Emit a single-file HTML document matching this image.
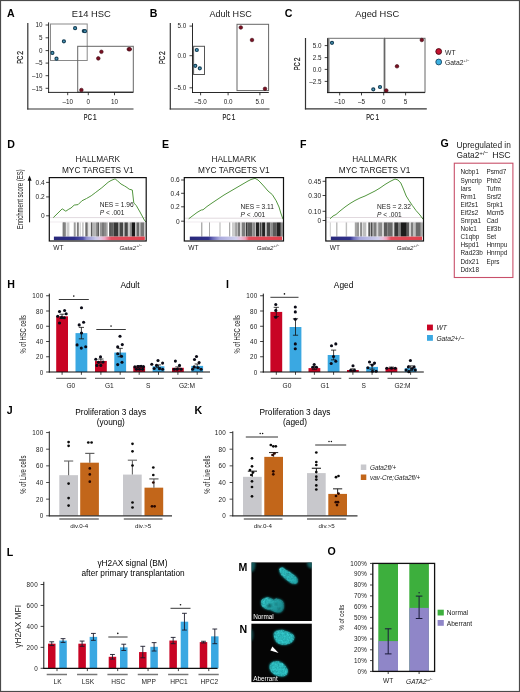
<!DOCTYPE html>
<html><head><meta charset="utf-8"><style>
html,body{margin:0;padding:0;background:#fff;}
svg{display:block;font-family:"Liberation Sans", sans-serif;-webkit-font-smoothing:antialiased;will-change:transform;}
</style></head><body>
<svg width="520" height="692" viewBox="0 0 520 692">
<rect width="520" height="692" fill="#fff"/>
<rect x="0.5" y="0.5" width="519" height="691" fill="none" stroke="#4a4a4a" stroke-width="1.2" />
<text x="6.9" y="16.8" font-size="10.6" font-weight="bold" fill="#000" >A</text>
<line x1="27.8" y1="23" x2="27.8" y2="109.6" stroke="#333" stroke-width="1.2" />
<line x1="27.2" y1="109" x2="133.5" y2="109" stroke="#333" stroke-width="1.2" />
<text x="91.3" y="17" font-size="9.4" text-anchor="middle" fill="#1a1a1a" >E14 HSC</text>
<rect x="50.5" y="24" width="36.7" height="36.5" fill="none" stroke="#8a8a8a" stroke-width="1" />
<rect x="77.7" y="46.3" width="55.60000000000001" height="45.7" fill="none" stroke="#666" stroke-width="1" />
<line x1="48.6" y1="22.4" x2="48.6" y2="92.9" stroke="#111" stroke-width="0.9" />
<line x1="48.1" y1="92.4" x2="133.3" y2="92.4" stroke="#111" stroke-width="0.9" />
<line x1="45.6" y1="25.0" x2="48.6" y2="25.0" stroke="#111" stroke-width="0.8" />
<text x="42.4" y="27.2" font-size="6.3" text-anchor="end" fill="#222" >10</text>
<line x1="45.6" y1="37.8" x2="48.6" y2="37.8" stroke="#111" stroke-width="0.8" />
<text x="42.4" y="40.0" font-size="6.3" text-anchor="end" fill="#222" >5</text>
<line x1="45.6" y1="50.6" x2="48.6" y2="50.6" stroke="#111" stroke-width="0.8" />
<text x="42.4" y="52.800000000000004" font-size="6.3" text-anchor="end" fill="#222" >0</text>
<line x1="45.6" y1="63.1" x2="48.6" y2="63.1" stroke="#111" stroke-width="0.8" />
<text x="42.4" y="65.3" font-size="6.3" text-anchor="end" fill="#222" >–5</text>
<line x1="45.6" y1="75.7" x2="48.6" y2="75.7" stroke="#111" stroke-width="0.8" />
<text x="42.4" y="77.9" font-size="6.3" text-anchor="end" fill="#222" >–10</text>
<line x1="45.6" y1="88.3" x2="48.6" y2="88.3" stroke="#111" stroke-width="0.8" />
<text x="42.4" y="90.5" font-size="6.3" text-anchor="end" fill="#222" >–15</text>
<line x1="67.7" y1="92.4" x2="67.7" y2="95.2" stroke="#111" stroke-width="0.8" />
<text x="67.7" y="104.10000000000001" font-size="6.3" text-anchor="middle" fill="#222" >–10</text>
<line x1="88.3" y1="92.4" x2="88.3" y2="95.2" stroke="#111" stroke-width="0.8" />
<text x="88.3" y="104.10000000000001" font-size="6.3" text-anchor="middle" fill="#222" >0</text>
<line x1="114.5" y1="92.4" x2="114.5" y2="95.2" stroke="#111" stroke-width="0.8" />
<text x="114.5" y="104.10000000000001" font-size="6.3" text-anchor="middle" fill="#222" >10</text>
<circle cx="75.1" cy="28.2" r="1.5" fill="#4fa2c4" stroke="#173f55" stroke-width="1.2"/>
<circle cx="83.8" cy="31.0" r="1.5" fill="#4fa2c4" stroke="#173f55" stroke-width="1.2"/>
<circle cx="85.0" cy="31.2" r="1.5" fill="#4fa2c4" stroke="#173f55" stroke-width="1.2"/>
<circle cx="63.9" cy="41.3" r="1.5" fill="#4fa2c4" stroke="#173f55" stroke-width="1.2"/>
<circle cx="52.4" cy="52.9" r="1.5" fill="#4fa2c4" stroke="#173f55" stroke-width="1.2"/>
<circle cx="56.5" cy="58.7" r="1.5" fill="#4fa2c4" stroke="#173f55" stroke-width="1.2"/>
<circle cx="101.4" cy="51.8" r="1.8" fill="#7a1022" stroke="#3e0812" stroke-width="0.6"/>
<circle cx="98.3" cy="58.4" r="1.8" fill="#7a1022" stroke="#3e0812" stroke-width="0.6"/>
<circle cx="128.8" cy="49.2" r="1.8" fill="#7a1022" stroke="#3e0812" stroke-width="0.6"/>
<circle cx="129.8" cy="49.2" r="1.8" fill="#7a1022" stroke="#3e0812" stroke-width="0.6"/>
<circle cx="81.4" cy="90" r="1.8" fill="#7a1022" stroke="#3e0812" stroke-width="0.6"/>
<text x="83.85" y="119.6" font-size="8.4" fill="#1a1a1a" textLength="7.9" lengthAdjust="spacingAndGlyphs" stroke="#1a1a1a" stroke-width="0.2">PC</text>
<text x="93.05" y="119.6" font-size="8.4" fill="#1a1a1a" textLength="3.6" lengthAdjust="spacingAndGlyphs" stroke="#1a1a1a" stroke-width="0.2">1</text>
<g transform="translate(22.7 63.75) rotate(-90)">
<text x="0" y="0" font-size="8.4" fill="#1a1a1a" textLength="7.9" lengthAdjust="spacingAndGlyphs" stroke="#1a1a1a" stroke-width="0.2">PC</text>
<text x="9.0" y="0" font-size="8.4" fill="#1a1a1a" textLength="3.8" lengthAdjust="spacingAndGlyphs" stroke="#1a1a1a" stroke-width="0.2">2</text>
</g>
<text x="149.8" y="16.8" font-size="10.6" font-weight="bold" fill="#000" >B</text>
<line x1="170.3" y1="23" x2="170.3" y2="109.6" stroke="#333" stroke-width="1.2" />
<line x1="169.70000000000002" y1="109" x2="269.5" y2="109" stroke="#333" stroke-width="1.2" />
<text x="230.6" y="17" font-size="9.05" text-anchor="middle" fill="#1a1a1a" >Adult HSC</text>
<rect x="193.6" y="46.3" width="10.900000000000006" height="28.200000000000003" fill="none" stroke="#555" stroke-width="1" />
<rect x="237.0" y="24.3" width="31.600000000000023" height="66.3" fill="none" stroke="#666" stroke-width="1" />
<line x1="192.5" y1="23.2" x2="192.5" y2="93.0" stroke="#111" stroke-width="0.9" />
<line x1="192.0" y1="92.5" x2="268.8" y2="92.5" stroke="#111" stroke-width="0.9" />
<line x1="189.5" y1="26.1" x2="192.5" y2="26.1" stroke="#111" stroke-width="0.8" />
<text x="186.3" y="28.3" font-size="6.3" text-anchor="end" fill="#222" >5.0</text>
<line x1="189.5" y1="55.7" x2="192.5" y2="55.7" stroke="#111" stroke-width="0.8" />
<text x="186.3" y="57.900000000000006" font-size="6.3" text-anchor="end" fill="#222" >0.0</text>
<line x1="189.5" y1="87.8" x2="192.5" y2="87.8" stroke="#111" stroke-width="0.8" />
<text x="186.3" y="90.0" font-size="6.3" text-anchor="end" fill="#222" >–5.0</text>
<line x1="200.6" y1="92.5" x2="200.6" y2="95.3" stroke="#111" stroke-width="0.8" />
<text x="200.6" y="104.2" font-size="6.3" text-anchor="middle" fill="#222" >–5.0</text>
<line x1="228.1" y1="92.5" x2="228.1" y2="95.3" stroke="#111" stroke-width="0.8" />
<text x="228.1" y="104.2" font-size="6.3" text-anchor="middle" fill="#222" >0.0</text>
<line x1="259.9" y1="92.5" x2="259.9" y2="95.3" stroke="#111" stroke-width="0.8" />
<text x="259.9" y="104.2" font-size="6.3" text-anchor="middle" fill="#222" >5.0</text>
<circle cx="196.8" cy="50" r="1.5" fill="#4fa2c4" stroke="#173f55" stroke-width="1.2"/>
<circle cx="195.3" cy="65.8" r="1.5" fill="#4fa2c4" stroke="#173f55" stroke-width="1.2"/>
<circle cx="199.8" cy="68.3" r="1.5" fill="#4fa2c4" stroke="#173f55" stroke-width="1.2"/>
<circle cx="240.8" cy="27.5" r="1.8" fill="#7a1022" stroke="#3e0812" stroke-width="0.6"/>
<circle cx="252" cy="40" r="1.8" fill="#7a1022" stroke="#3e0812" stroke-width="0.6"/>
<circle cx="265" cy="88.8" r="1.8" fill="#7a1022" stroke="#3e0812" stroke-width="0.6"/>
<text x="222.60000000000002" y="119.6" font-size="8.4" fill="#1a1a1a" textLength="7.9" lengthAdjust="spacingAndGlyphs" stroke="#1a1a1a" stroke-width="0.2">PC</text>
<text x="231.8" y="119.6" font-size="8.4" fill="#1a1a1a" textLength="3.6" lengthAdjust="spacingAndGlyphs" stroke="#1a1a1a" stroke-width="0.2">1</text>
<g transform="translate(164.8 64.0) rotate(-90)">
<text x="0" y="0" font-size="8.4" fill="#1a1a1a" textLength="7.9" lengthAdjust="spacingAndGlyphs" stroke="#1a1a1a" stroke-width="0.2">PC</text>
<text x="9.0" y="0" font-size="8.4" fill="#1a1a1a" textLength="3.8" lengthAdjust="spacingAndGlyphs" stroke="#1a1a1a" stroke-width="0.2">2</text>
</g>
<text x="284.8" y="16.8" font-size="10.6" font-weight="bold" fill="#000" >C</text>
<line x1="305.5" y1="38" x2="305.5" y2="109.39999999999999" stroke="#333" stroke-width="1.2" />
<line x1="304.9" y1="108.8" x2="426.8" y2="108.8" stroke="#333" stroke-width="1.2" />
<text x="377.3" y="17" font-size="9.3" text-anchor="middle" fill="#1a1a1a" >Aged HSC</text>
<rect x="328" y="38.3" width="56.5" height="54.10000000000001" fill="none" stroke="#707070" stroke-width="1" />
<line x1="328.6" y1="38.3" x2="328.6" y2="92.4" stroke="#8c8c8c" stroke-width="2.0" />
<line x1="384.5" y1="38.3" x2="384.5" y2="92.4" stroke="#8c8c8c" stroke-width="2.0" />
<rect x="384.5" y="38.3" width="40.5" height="53.900000000000006" fill="none" stroke="#666" stroke-width="1" />
<line x1="327.7" y1="38.2" x2="327.7" y2="93.1" stroke="#111" stroke-width="0.9" />
<line x1="327.2" y1="92.6" x2="425" y2="92.6" stroke="#111" stroke-width="0.9" />
<line x1="324.7" y1="45.6" x2="327.7" y2="45.6" stroke="#111" stroke-width="0.8" />
<text x="321.5" y="47.800000000000004" font-size="6.3" text-anchor="end" fill="#222" >5.0</text>
<line x1="324.7" y1="57.6" x2="327.7" y2="57.6" stroke="#111" stroke-width="0.8" />
<text x="321.5" y="59.800000000000004" font-size="6.3" text-anchor="end" fill="#222" >2.5</text>
<line x1="324.7" y1="69.4" x2="327.7" y2="69.4" stroke="#111" stroke-width="0.8" />
<text x="321.5" y="71.60000000000001" font-size="6.3" text-anchor="end" fill="#222" >0.0</text>
<line x1="324.7" y1="81.4" x2="327.7" y2="81.4" stroke="#111" stroke-width="0.8" />
<text x="321.5" y="83.60000000000001" font-size="6.3" text-anchor="end" fill="#222" >–2.5</text>
<line x1="339.7" y1="92.6" x2="339.7" y2="95.39999999999999" stroke="#111" stroke-width="0.8" />
<text x="339.7" y="104.3" font-size="6.3" text-anchor="middle" fill="#222" >–10</text>
<line x1="361.5" y1="92.6" x2="361.5" y2="95.39999999999999" stroke="#111" stroke-width="0.8" />
<text x="361.5" y="104.3" font-size="6.3" text-anchor="middle" fill="#222" >–5</text>
<line x1="383.7" y1="92.6" x2="383.7" y2="95.39999999999999" stroke="#111" stroke-width="0.8" />
<text x="383.7" y="104.3" font-size="6.3" text-anchor="middle" fill="#222" >0</text>
<line x1="405.6" y1="92.6" x2="405.6" y2="95.39999999999999" stroke="#111" stroke-width="0.8" />
<text x="405.6" y="104.3" font-size="6.3" text-anchor="middle" fill="#222" >5</text>
<circle cx="332" cy="42.8" r="1.5" fill="#4fa2c4" stroke="#173f55" stroke-width="1.2"/>
<circle cx="373.3" cy="89.3" r="1.5" fill="#4fa2c4" stroke="#173f55" stroke-width="1.2"/>
<circle cx="380" cy="87" r="1.5" fill="#4fa2c4" stroke="#173f55" stroke-width="1.2"/>
<circle cx="397" cy="66.3" r="1.8" fill="#7a1022" stroke="#3e0812" stroke-width="0.6"/>
<circle cx="386.3" cy="90.5" r="1.8" fill="#7a1022" stroke="#3e0812" stroke-width="0.6"/>
<circle cx="421.8" cy="40" r="1.8" fill="#7a1022" stroke="#3e0812" stroke-width="0.6"/>
<text x="366.2" y="119.6" font-size="8.4" fill="#1a1a1a" textLength="7.9" lengthAdjust="spacingAndGlyphs" stroke="#1a1a1a" stroke-width="0.2">PC</text>
<text x="375.4" y="119.6" font-size="8.4" fill="#1a1a1a" textLength="3.6" lengthAdjust="spacingAndGlyphs" stroke="#1a1a1a" stroke-width="0.2">1</text>
<g transform="translate(299.9 70.35) rotate(-90)">
<text x="0" y="0" font-size="8.4" fill="#1a1a1a" textLength="7.9" lengthAdjust="spacingAndGlyphs" stroke="#1a1a1a" stroke-width="0.2">PC</text>
<text x="9.0" y="0" font-size="8.4" fill="#1a1a1a" textLength="3.8" lengthAdjust="spacingAndGlyphs" stroke="#1a1a1a" stroke-width="0.2">2</text>
</g>
<circle cx="438.7" cy="51.5" r="2.9" fill="#c41230" stroke="#4a0812" stroke-width="0.9"/>
<circle cx="438.7" cy="62.0" r="2.9" fill="#3cb0e0" stroke="#1c4a66" stroke-width="0.9"/>
<text x="445" y="54.5" font-size="6.8" fill="#222" >WT</text>
<text x="445" y="64.5" font-size="6.8" fill="#222" >Gata2<tspan font-size="4.2" dy="-2.6">+/−</tspan></text>
<text x="7.2" y="147.5" font-size="10.6" font-weight="bold" fill="#000" >D</text>
<text x="22.9" y="199.3" font-size="8.2" text-anchor="middle" fill="#1a1a1a" textLength="60" lengthAdjust="spacingAndGlyphs" transform="rotate(-90 22.9 199.3)" >Enrichment score (ES)</text>
<line x1="29.6" y1="222.3" x2="29.6" y2="179.5" stroke="#111" stroke-width="1.0" />
<path d="M29.6,175.6 L31.6,180.8 L27.6,180.8 Z" stroke="none" stroke-width="1" fill="#111" />
<text x="97.75" y="162" font-size="8.3" text-anchor="middle" fill="#1a1a1a" >HALLMARK</text>
<text x="97.75" y="172.6" font-size="8.3" text-anchor="middle" fill="#1a1a1a" >MYC TARGETS V1</text>
<line x1="49.3" y1="217.6" x2="146.2" y2="217.6" stroke="#d9cfd6" stroke-width="0.8" />
<line x1="49.3" y1="222.0" x2="146.2" y2="222.0" stroke="#e6dde4" stroke-width="0.6" />
<rect x="62.5" y="222.4" width="3.5" height="14.2" fill="rgb(150,150,150)" />
<rect x="63.2" y="222.4" width="1.3999999999999915" height="14.2" fill="rgb(120,120,120)" />
<rect x="66.5" y="222.4" width="2.9000000000000057" height="14.2" fill="rgb(205,205,205)" />
<rect x="73.75" y="222.4" width="1.9500000000000028" height="14.2" fill="rgb(155,155,155)" />
<rect x="76.9" y="222.4" width="1.8999999999999915" height="14.2" fill="rgb(125,125,125)" />
<rect x="79.5" y="222.4" width="1.5" height="14.2" fill="rgb(215,215,215)" />
<rect x="82" y="222.4" width="1.7999999999999972" height="14.2" fill="rgb(200,200,200)" />
<rect x="85.3" y="222.4" width="2.4000000000000057" height="14.2" fill="rgb(110,110,110)" />
<rect x="88.2" y="222.4" width="1.3999999999999915" height="14.2" fill="rgb(215,215,215)" />
<rect x="90.8" y="222.4" width="1.7000000000000028" height="14.2" fill="rgb(90,90,90)" />
<rect x="93" y="222.4" width="2" height="14.2" fill="rgb(180,180,180)" />
<rect x="95.4" y="222.4" width="1.8999999999999915" height="14.2" fill="rgb(140,140,140)" />
<rect x="97.3" y="222.4" width="1.9000000000000057" height="14.2" fill="rgb(90,90,90)" />
<rect x="100" y="222.4" width="2" height="14.2" fill="rgb(150,150,150)" />
<rect x="102" y="222.4" width="2" height="14.2" fill="rgb(120,120,120)" />
<rect x="104" y="222.4" width="2" height="14.2" fill="rgb(140,140,140)" />
<rect x="106" y="222.4" width="1.7000000000000028" height="14.2" fill="rgb(165,165,165)" />
<rect x="109.1" y="222.4" width="1.9000000000000057" height="14.2" fill="rgb(85,85,85)" />
<rect x="111" y="222.4" width="2.5" height="14.2" fill="rgb(95,95,95)" />
<rect x="113.5" y="222.4" width="4.799999999999997" height="14.2" fill="rgb(55,55,55)" />
<rect x="118.3" y="222.4" width="1.4000000000000057" height="14.2" fill="rgb(140,140,140)" />
<rect x="119.7" y="222.4" width="3.299999999999997" height="14.2" fill="rgb(70,70,70)" />
<rect x="123" y="222.4" width="1.5" height="14.2" fill="rgb(190,190,190)" />
<rect x="124.5" y="222.4" width="3.4000000000000057" height="14.2" fill="rgb(70,70,70)" />
<rect x="127.9" y="222.4" width="1.9000000000000057" height="14.2" fill="rgb(200,200,200)" />
<rect x="129.8" y="222.4" width="1.8999999999999773" height="14.2" fill="rgb(140,140,140)" />
<rect x="131.7" y="222.4" width="3.4000000000000057" height="14.2" fill="rgb(25,25,25)" />
<rect x="135.1" y="222.4" width="1.4000000000000057" height="14.2" fill="rgb(190,190,190)" />
<rect x="136.5" y="222.4" width="2.9000000000000057" height="14.2" fill="rgb(105,105,105)" />
<rect x="139.4" y="222.4" width="1.0" height="14.2" fill="rgb(185,185,185)" />
<rect x="140.4" y="222.4" width="3.799999999999983" height="14.2" fill="rgb(120,120,120)" />
<rect x="144.2" y="222.4" width="1.200000000000017" height="14.2" fill="rgb(200,200,200)" />
<defs><linearGradient id="gD" x1="0" x2="1" y1="0" y2="0"><stop offset="0" stop-color="#28287a"/><stop offset="0.22" stop-color="#2e2e88"/><stop offset="0.32" stop-color="#5050a8"/><stop offset="0.36" stop-color="#9090d0"/><stop offset="0.46" stop-color="#c8c8ea"/><stop offset="0.51" stop-color="#e0c8e4"/><stop offset="0.56" stop-color="#f0a8c4"/><stop offset="0.63" stop-color="#e05060"/><stop offset="1" stop-color="#e0404c"/></linearGradient></defs>
<rect x="53.9" y="236.6" width="90.89999999999998" height="3.5999999999999943" fill="url(#gD)" />
<path d="M53.3,217.6 L58.0,213.0 L62.2,208.8 L65.8,211.2 L68.8,209.2 L71.0,208.0 L74.2,205.1 L78.1,204.6 L81.9,200.8 L86.5,198.5 L91.2,195.8 L95.8,192.3 L101.9,187.7 L108.1,182.3 L111.0,180.5 L114.2,179.2 L115.2,179.0 L117.7,181.0 L121.0,184.0 L124.6,186.0 L127.0,187.5 L129.2,189.2 L132.3,190.0 L133.8,203.0 L136.2,205.4 L140.0,212.0 L144.3,220.0 L146.0,222.0" stroke="#52963e" stroke-width="1.0" fill="none" />
<rect x="49.3" y="177.6" width="96.89999999999999" height="63.400000000000006" fill="none" stroke="#111" stroke-width="1.2" />
<line x1="46.099999999999994" y1="182.4" x2="49.3" y2="182.4" stroke="#111" stroke-width="0.8" />
<text x="44.699999999999996" y="184.70000000000002" font-size="6.6" text-anchor="end" fill="#222" >0.4</text>
<line x1="46.099999999999994" y1="196.9" x2="49.3" y2="196.9" stroke="#111" stroke-width="0.8" />
<text x="44.699999999999996" y="199.20000000000002" font-size="6.6" text-anchor="end" fill="#222" >0.2</text>
<line x1="46.099999999999994" y1="215.8" x2="49.3" y2="215.8" stroke="#111" stroke-width="0.8" />
<text x="44.699999999999996" y="218.10000000000002" font-size="6.6" text-anchor="end" fill="#222" >0</text>
<text x="99.7" y="207.0" font-size="6.6" fill="#222" >NES = 1.96</text>
<text x="99.7" y="215.2" font-size="6.6" fill="#222" ><tspan font-style="italic">P</tspan> &lt; .001</text>
<text x="53.3" y="249.6" font-size="6.6" fill="#222" >WT</text>
<text x="142.2" y="249.8" font-size="6.15" text-anchor="end" font-style="italic" fill="#222" >Gata2<tspan font-size="4.2" dy="-2.8">+/−</tspan></text>
<text x="162.0" y="147.5" font-size="10.6" font-weight="bold" fill="#000" >E</text>
<text x="233.9" y="162" font-size="8.3" text-anchor="middle" fill="#1a1a1a" >HALLMARK</text>
<text x="233.9" y="172.6" font-size="8.3" text-anchor="middle" fill="#1a1a1a" >MYC TARGETS V1</text>
<line x1="184.3" y1="218.2" x2="283.5" y2="218.2" stroke="#d9cfd6" stroke-width="0.8" />
<line x1="184.3" y1="222.0" x2="283.5" y2="222.0" stroke="#e6dde4" stroke-width="0.6" />
<rect x="201.3" y="222.4" width="1.0" height="14.2" fill="rgb(140,140,140)" />
<rect x="209" y="222.4" width="0.8000000000000114" height="14.2" fill="rgb(150,150,150)" />
<rect x="219.6" y="222.4" width="0.8000000000000114" height="14.2" fill="rgb(160,160,160)" />
<rect x="229.2" y="222.4" width="1.0" height="14.2" fill="rgb(150,150,150)" />
<rect x="232" y="222.4" width="3.0999999999999943" height="14.2" fill="rgb(205,205,205)" />
<rect x="235.1" y="222.4" width="2.5999999999999943" height="14.2" fill="rgb(160,160,160)" />
<rect x="238.2" y="222.4" width="1.6000000000000227" height="14.2" fill="rgb(90,90,90)" />
<rect x="240.3" y="222.4" width="1.5999999999999943" height="14.2" fill="rgb(205,205,205)" />
<rect x="241.9" y="222.4" width="3.5999999999999943" height="14.2" fill="rgb(125,125,125)" />
<rect x="246" y="222.4" width="1.5999999999999943" height="14.2" fill="rgb(55,55,55)" />
<rect x="247.6" y="222.4" width="4.599999999999994" height="14.2" fill="rgb(90,90,90)" />
<rect x="252.2" y="222.4" width="3.200000000000017" height="14.2" fill="rgb(140,140,140)" />
<rect x="255.9" y="222.4" width="3.0999999999999943" height="14.2" fill="rgb(35,35,35)" />
<rect x="259.5" y="222.4" width="2.1000000000000227" height="14.2" fill="rgb(70,70,70)" />
<rect x="262.1" y="222.4" width="3.099999999999966" height="14.2" fill="rgb(35,35,35)" />
<rect x="265.2" y="222.4" width="1.6000000000000227" height="14.2" fill="rgb(185,185,185)" />
<rect x="266.8" y="222.4" width="3.599999999999966" height="14.2" fill="rgb(70,70,70)" />
<rect x="270.4" y="222.4" width="2.6000000000000227" height="14.2" fill="rgb(140,140,140)" />
<rect x="273" y="222.4" width="3.6999999999999886" height="14.2" fill="rgb(90,90,90)" />
<rect x="276.7" y="222.4" width="4.100000000000023" height="14.2" fill="rgb(35,35,35)" />
<rect x="280.8" y="222.4" width="2.099999999999966" height="14.2" fill="rgb(140,140,140)" />
<defs><linearGradient id="gE" x1="0" x2="1" y1="0" y2="0"><stop offset="0" stop-color="#28287a"/><stop offset="0.2" stop-color="#30308a"/><stop offset="0.25" stop-color="#6a6ab8"/><stop offset="0.32" stop-color="#a8a8dc"/><stop offset="0.5" stop-color="#d0d0ee"/><stop offset="0.55" stop-color="#e8c0dc"/><stop offset="0.6" stop-color="#f0a0b8"/><stop offset="0.64" stop-color="#e04c5a"/><stop offset="1" stop-color="#e0404c"/></linearGradient></defs>
<rect x="189.8" y="236.6" width="92.30000000000001" height="3.5999999999999943" fill="url(#gE)" />
<path d="M188.7,218.8 L193.0,215.5 L197.0,212.5 L201.2,210.0 L203.0,209.8 L207.0,206.5 L212.0,203.0 L218.0,199.0 L224.0,195.0 L230.0,191.5 L236.0,188.0 L242.0,184.5 L248.0,181.0 L251.0,179.5 L255.0,178.3 L258.0,180.0 L261.0,183.0 L264.6,187.0 L268.0,191.0 L272.3,194.6 L276.2,200.8 L279.0,207.0 L280.8,213.0 L283.0,219.2" stroke="#52963e" stroke-width="1.0" fill="none" />
<rect x="184.3" y="177.6" width="99.19999999999999" height="63.400000000000006" fill="none" stroke="#111" stroke-width="1.2" />
<line x1="181.10000000000002" y1="180.0" x2="184.3" y2="180.0" stroke="#111" stroke-width="0.8" />
<text x="179.70000000000002" y="182.3" font-size="6.6" text-anchor="end" fill="#222" >0.6</text>
<line x1="181.10000000000002" y1="193.3" x2="184.3" y2="193.3" stroke="#111" stroke-width="0.8" />
<text x="179.70000000000002" y="195.60000000000002" font-size="6.6" text-anchor="end" fill="#222" >0.4</text>
<line x1="181.10000000000002" y1="206.8" x2="184.3" y2="206.8" stroke="#111" stroke-width="0.8" />
<text x="179.70000000000002" y="209.10000000000002" font-size="6.6" text-anchor="end" fill="#222" >0.2</text>
<line x1="181.10000000000002" y1="221.2" x2="184.3" y2="221.2" stroke="#111" stroke-width="0.8" />
<text x="179.70000000000002" y="223.5" font-size="6.6" text-anchor="end" fill="#222" >0</text>
<text x="240.5" y="208.6" font-size="6.6" fill="#222" >NES = 3.11</text>
<text x="240.5" y="216.79999999999998" font-size="6.6" fill="#222" ><tspan font-style="italic">P</tspan> &lt; .001</text>
<text x="188.3" y="249.6" font-size="6.6" fill="#222" >WT</text>
<text x="279.5" y="249.8" font-size="6.15" text-anchor="end" font-style="italic" fill="#222" >Gata2<tspan font-size="4.2" dy="-2.8">+/−</tspan></text>
<text x="300.0" y="147.5" font-size="10.6" font-weight="bold" fill="#000" >F</text>
<text x="374.65" y="162" font-size="8.3" text-anchor="middle" fill="#1a1a1a" >HALLMARK</text>
<text x="374.65" y="172.6" font-size="8.3" text-anchor="middle" fill="#1a1a1a" >MYC TARGETS V1</text>
<line x1="325.8" y1="217.5" x2="423.5" y2="217.5" stroke="#d9cfd6" stroke-width="0.8" />
<line x1="325.8" y1="222.0" x2="423.5" y2="222.0" stroke="#e6dde4" stroke-width="0.6" />
<rect x="329.8" y="222.4" width="1.0" height="14.2" fill="rgb(205,205,205)" />
<rect x="336" y="222.4" width="1.5" height="14.2" fill="rgb(190,190,190)" />
<rect x="345.7" y="222.4" width="1.400000000000034" height="14.2" fill="rgb(190,190,190)" />
<rect x="354.8" y="222.4" width="2.1999999999999886" height="14.2" fill="rgb(165,165,165)" />
<rect x="357" y="222.4" width="2.1000000000000227" height="14.2" fill="rgb(150,150,150)" />
<rect x="360.1" y="222.4" width="1.8999999999999773" height="14.2" fill="rgb(140,140,140)" />
<rect x="362.5" y="222.4" width="3.8000000000000114" height="14.2" fill="rgb(190,190,190)" />
<rect x="368.3" y="222.4" width="1.8999999999999773" height="14.2" fill="rgb(90,90,90)" />
<rect x="370.7" y="222.4" width="1.900000000000034" height="14.2" fill="rgb(75,75,75)" />
<rect x="373" y="222.4" width="0.6000000000000227" height="14.2" fill="rgb(150,150,150)" />
<rect x="373.6" y="222.4" width="3.099999999999966" height="14.2" fill="rgb(125,125,125)" />
<rect x="376.7" y="222.4" width="1.5" height="14.2" fill="rgb(215,215,215)" />
<rect x="378.2" y="222.4" width="4.199999999999989" height="14.2" fill="rgb(140,140,140)" />
<rect x="382.4" y="222.4" width="1.5" height="14.2" fill="rgb(215,215,215)" />
<rect x="383.9" y="222.4" width="3.7000000000000455" height="14.2" fill="rgb(90,90,90)" />
<rect x="387.6" y="222.4" width="5.199999999999989" height="14.2" fill="rgb(105,105,105)" />
<rect x="392.8" y="222.4" width="1.5" height="14.2" fill="rgb(215,215,215)" />
<rect x="394.3" y="222.4" width="3.6999999999999886" height="14.2" fill="rgb(55,55,55)" />
<rect x="398" y="222.4" width="2.6000000000000227" height="14.2" fill="rgb(125,125,125)" />
<rect x="400.6" y="222.4" width="6.199999999999989" height="14.2" fill="rgb(28,28,28)" />
<rect x="406.8" y="222.4" width="2.599999999999966" height="14.2" fill="rgb(90,90,90)" />
<rect x="409.4" y="222.4" width="1.5" height="14.2" fill="rgb(215,215,215)" />
<rect x="410.9" y="222.4" width="2.6000000000000227" height="14.2" fill="rgb(125,125,125)" />
<rect x="413.5" y="222.4" width="2.1000000000000227" height="14.2" fill="rgb(190,190,190)" />
<rect x="415.6" y="222.4" width="5.199999999999989" height="14.2" fill="rgb(105,105,105)" />
<rect x="420.8" y="222.4" width="2.099999999999966" height="14.2" fill="rgb(170,170,170)" />
<defs><linearGradient id="gF" x1="0" x2="1" y1="0" y2="0"><stop offset="0" stop-color="#28287a"/><stop offset="0.21" stop-color="#30308a"/><stop offset="0.25" stop-color="#6a6ab8"/><stop offset="0.32" stop-color="#a8a8dc"/><stop offset="0.52" stop-color="#d0d0ee"/><stop offset="0.57" stop-color="#e8c0dc"/><stop offset="0.61" stop-color="#f0a0b8"/><stop offset="0.66" stop-color="#e04c5a"/><stop offset="1" stop-color="#e0404c"/></linearGradient></defs>
<rect x="330.8" y="236.6" width="91.30000000000001" height="3.5999999999999943" fill="url(#gF)" />
<path d="M330.0,218.8 L333.0,216.0 L336.0,214.5 L340.0,211.0 L345.0,207.0 L350.0,203.5 L355.0,200.5 L360.0,198.0 L365.0,196.0 L370.0,193.5 L375.0,191.0 L380.0,188.0 L385.0,184.5 L390.0,181.5 L395.0,179.0 L398.0,180.0 L400.8,183.0 L403.0,188.0 L406.2,196.0 L409.0,200.5 L412.3,205.4 L416.0,210.5 L420.0,215.0 L423.0,219.2" stroke="#52963e" stroke-width="1.0" fill="none" />
<rect x="325.8" y="177.6" width="97.69999999999999" height="63.400000000000006" fill="none" stroke="#111" stroke-width="1.2" />
<line x1="322.6" y1="181.3" x2="325.8" y2="181.3" stroke="#111" stroke-width="0.8" />
<text x="321.2" y="183.60000000000002" font-size="6.6" text-anchor="end" fill="#222" >0.45</text>
<line x1="322.6" y1="195.5" x2="325.8" y2="195.5" stroke="#111" stroke-width="0.8" />
<text x="321.2" y="197.8" font-size="6.6" text-anchor="end" fill="#222" >0.30</text>
<line x1="322.6" y1="211.3" x2="325.8" y2="211.3" stroke="#111" stroke-width="0.8" />
<text x="321.2" y="213.60000000000002" font-size="6.6" text-anchor="end" fill="#222" >0.10</text>
<line x1="322.6" y1="220.5" x2="325.8" y2="220.5" stroke="#111" stroke-width="0.8" />
<text x="321.2" y="222.8" font-size="6.6" text-anchor="end" fill="#222" >0</text>
<text x="377.0" y="209.0" font-size="6.6" fill="#222" >NES = 2.32</text>
<text x="377.0" y="217.2" font-size="6.6" fill="#222" ><tspan font-style="italic">P</tspan> &lt; .001</text>
<text x="329.8" y="249.6" font-size="6.6" fill="#222" >WT</text>
<text x="419.5" y="249.8" font-size="6.15" text-anchor="end" font-style="italic" fill="#222" >Gata2<tspan font-size="4.2" dy="-2.8">+/−</tspan></text>
<text x="440.4" y="147.4" font-size="10.6" font-weight="bold" fill="#000" >G</text>
<text x="456.6" y="148.0" font-size="8.35" fill="#222" >Upregulated in</text>
<text x="456.6" y="158.2" font-size="8.35" fill="#222" >Gata2<tspan font-size="6.2" dy="-3.6">+/−</tspan><tspan dy="3.6" dx="1.4" font-size="8.8"> HSC</tspan></text>
<rect x="454.3" y="163.2" width="58.6" height="114.3" fill="none" stroke="#c8506a" stroke-width="1.1" />
<text x="460.5" y="174.4" font-size="6.4" fill="#222" >Ncbp1</text>
<text x="460.5" y="182.5" font-size="6.4" fill="#222" >Syncrip</text>
<text x="460.5" y="190.6" font-size="6.4" fill="#222" >Iars</text>
<text x="460.5" y="198.7" font-size="6.4" fill="#222" >Rrm1</text>
<text x="460.5" y="206.8" font-size="6.4" fill="#222" >Eif2s1</text>
<text x="460.5" y="214.9" font-size="6.4" fill="#222" >Eif2s2</text>
<text x="460.5" y="223.0" font-size="6.4" fill="#222" >Snrpa1</text>
<text x="460.5" y="231.1" font-size="6.4" fill="#222" >Nolc1</text>
<text x="460.5" y="239.2" font-size="6.4" fill="#222" >C1qbp</text>
<text x="460.5" y="247.3" font-size="6.4" fill="#222" >Hspd1</text>
<text x="460.5" y="255.4" font-size="6.4" fill="#222" >Rad23b</text>
<text x="460.5" y="263.5" font-size="6.4" fill="#222" >Ddx21</text>
<text x="460.5" y="271.6" font-size="6.4" fill="#222" >Ddx18</text>
<text x="486.4" y="174.4" font-size="6.4" fill="#222" >Psmd7</text>
<text x="486.4" y="182.5" font-size="6.4" fill="#222" >Phb2</text>
<text x="486.4" y="190.6" font-size="6.4" fill="#222" >Tufm</text>
<text x="486.4" y="198.7" font-size="6.4" fill="#222" >Srsf2</text>
<text x="486.4" y="206.8" font-size="6.4" fill="#222" >Srpk1</text>
<text x="486.4" y="214.9" font-size="6.4" fill="#222" >Mcm5</text>
<text x="486.4" y="223.0" font-size="6.4" fill="#222" >Cad</text>
<text x="486.4" y="231.1" font-size="6.4" fill="#222" >Eif3b</text>
<text x="486.4" y="239.2" font-size="6.4" fill="#222" >Set</text>
<text x="486.4" y="247.3" font-size="6.4" fill="#222" >Hnrnpu</text>
<text x="486.4" y="255.4" font-size="6.4" fill="#222" >Hnrnpd</text>
<text x="486.4" y="263.5" font-size="6.4" fill="#222" >Eprs</text>
<text x="7.2" y="288.2" font-size="10.6" font-weight="bold" fill="#000" >H</text>
<text x="130.0" y="288.2" font-size="8.4" text-anchor="middle" >Adult</text>
<rect x="56.2" y="316.3375" width="11.8" height="55.662499999999994" fill="#c80424" />
<rect x="75.5" y="333.1125" width="11.8" height="38.887499999999996" fill="#3aa8e2" />
<rect x="95.0" y="360.94375" width="11.8" height="11.056249999999999" fill="#c80424" />
<rect x="114.3" y="352.55625" width="11.8" height="19.443749999999998" fill="#3aa8e2" />
<rect x="133.3" y="366.28125" width="11.8" height="5.71875" fill="#c80424" />
<rect x="152.60000000000002" y="366.28125" width="11.8" height="5.71875" fill="#3aa8e2" />
<rect x="172.0" y="367.80625" width="11.8" height="4.19375" fill="#c80424" />
<rect x="191.3" y="365.9" width="11.8" height="6.1" fill="#3aa8e2" />
<line x1="62.1" y1="314.2025" x2="62.1" y2="318.4725" stroke="#111" stroke-width="0.8" />
<line x1="59.5" y1="314.2025" x2="64.7" y2="314.2025" stroke="#111" stroke-width="0.8" />
<line x1="59.5" y1="318.4725" x2="64.7" y2="318.4725" stroke="#111" stroke-width="0.8" />
<line x1="81.4" y1="327.39375" x2="81.4" y2="338.83125" stroke="#111" stroke-width="0.8" />
<line x1="78.80000000000001" y1="327.39375" x2="84.0" y2="327.39375" stroke="#111" stroke-width="0.8" />
<line x1="78.80000000000001" y1="338.83125" x2="84.0" y2="338.83125" stroke="#111" stroke-width="0.8" />
<line x1="100.9" y1="359.0375" x2="100.9" y2="362.85" stroke="#111" stroke-width="0.8" />
<line x1="98.30000000000001" y1="359.0375" x2="103.5" y2="359.0375" stroke="#111" stroke-width="0.8" />
<line x1="98.30000000000001" y1="362.85" x2="103.5" y2="362.85" stroke="#111" stroke-width="0.8" />
<line x1="120.2" y1="348.3625" x2="120.2" y2="356.75" stroke="#111" stroke-width="0.8" />
<line x1="117.60000000000001" y1="348.3625" x2="122.8" y2="348.3625" stroke="#111" stroke-width="0.8" />
<line x1="117.60000000000001" y1="356.75" x2="122.8" y2="356.75" stroke="#111" stroke-width="0.8" />
<line x1="139.20000000000002" y1="365.51875" x2="139.20000000000002" y2="367.04375" stroke="#111" stroke-width="0.8" />
<line x1="136.60000000000002" y1="365.51875" x2="141.8" y2="365.51875" stroke="#111" stroke-width="0.8" />
<line x1="136.60000000000002" y1="367.04375" x2="141.8" y2="367.04375" stroke="#111" stroke-width="0.8" />
<line x1="158.50000000000003" y1="364.90875" x2="158.50000000000003" y2="367.65375" stroke="#111" stroke-width="0.8" />
<line x1="155.90000000000003" y1="364.90875" x2="161.10000000000002" y2="364.90875" stroke="#111" stroke-width="0.8" />
<line x1="155.90000000000003" y1="367.65375" x2="161.10000000000002" y2="367.65375" stroke="#111" stroke-width="0.8" />
<line x1="177.9" y1="366.89125" x2="177.9" y2="368.72125" stroke="#111" stroke-width="0.8" />
<line x1="175.3" y1="366.89125" x2="180.5" y2="366.89125" stroke="#111" stroke-width="0.8" />
<line x1="175.3" y1="368.72125" x2="180.5" y2="368.72125" stroke="#111" stroke-width="0.8" />
<line x1="197.20000000000002" y1="363.99375" x2="197.20000000000002" y2="367.80625" stroke="#111" stroke-width="0.8" />
<line x1="194.60000000000002" y1="363.99375" x2="199.8" y2="363.99375" stroke="#111" stroke-width="0.8" />
<line x1="194.60000000000002" y1="367.80625" x2="199.8" y2="367.80625" stroke="#111" stroke-width="0.8" />
<circle cx="59.5" cy="311.5" r="1.55" fill="#0b0b16"/>
<circle cx="64.6" cy="310.5" r="1.55" fill="#0b0b16"/>
<circle cx="66.2" cy="313.8" r="1.55" fill="#0b0b16"/>
<circle cx="57.7" cy="316.2" r="1.55" fill="#0b0b16"/>
<circle cx="61.5" cy="317.4" r="1.55" fill="#0b0b16"/>
<circle cx="64.3" cy="317.7" r="1.55" fill="#0b0b16"/>
<circle cx="59.5" cy="323" r="1.55" fill="#0b0b16"/>
<circle cx="81.5" cy="307.7" r="1.55" fill="#0b0b16"/>
<circle cx="83.6" cy="322.2" r="1.55" fill="#0b0b16"/>
<circle cx="79.2" cy="324.9" r="1.55" fill="#0b0b16"/>
<circle cx="81.5" cy="333" r="1.55" fill="#0b0b16"/>
<circle cx="77.1" cy="344.9" r="1.55" fill="#0b0b16"/>
<circle cx="81.3" cy="348.1" r="1.55" fill="#0b0b16"/>
<circle cx="85.7" cy="346.7" r="1.55" fill="#0b0b16"/>
<circle cx="95.8" cy="359.2" r="1.55" fill="#0b0b16"/>
<circle cx="100.5" cy="356.9" r="1.55" fill="#0b0b16"/>
<circle cx="98.5" cy="362.3" r="1.55" fill="#0b0b16"/>
<circle cx="103.1" cy="362" r="1.55" fill="#0b0b16"/>
<circle cx="96.9" cy="365.4" r="1.55" fill="#0b0b16"/>
<circle cx="100.8" cy="365.4" r="1.55" fill="#0b0b16"/>
<circle cx="120" cy="336.2" r="1.55" fill="#0b0b16"/>
<circle cx="122.3" cy="344.6" r="1.55" fill="#0b0b16"/>
<circle cx="117.7" cy="346.9" r="1.55" fill="#0b0b16"/>
<circle cx="117.7" cy="353.8" r="1.55" fill="#0b0b16"/>
<circle cx="121.5" cy="356.2" r="1.55" fill="#0b0b16"/>
<circle cx="117.7" cy="364.6" r="1.55" fill="#0b0b16"/>
<circle cx="122" cy="362.3" r="1.55" fill="#0b0b16"/>
<circle cx="134.9" cy="366.9" r="1.55" fill="#0b0b16"/>
<circle cx="138" cy="366.6" r="1.55" fill="#0b0b16"/>
<circle cx="141.1" cy="366.2" r="1.55" fill="#0b0b16"/>
<circle cx="143.4" cy="366.6" r="1.55" fill="#0b0b16"/>
<circle cx="136.5" cy="369.2" r="1.55" fill="#0b0b16"/>
<circle cx="139.5" cy="369.2" r="1.55" fill="#0b0b16"/>
<circle cx="142.6" cy="369.2" r="1.55" fill="#0b0b16"/>
<circle cx="151.8" cy="364.2" r="1.55" fill="#0b0b16"/>
<circle cx="158" cy="360.5" r="1.55" fill="#0b0b16"/>
<circle cx="162.6" cy="363.1" r="1.55" fill="#0b0b16"/>
<circle cx="156.5" cy="365.4" r="1.55" fill="#0b0b16"/>
<circle cx="154.2" cy="368.5" r="1.55" fill="#0b0b16"/>
<circle cx="159.5" cy="368.8" r="1.55" fill="#0b0b16"/>
<circle cx="162.6" cy="369.2" r="1.55" fill="#0b0b16"/>
<circle cx="175.4" cy="361.1" r="1.55" fill="#0b0b16"/>
<circle cx="179.5" cy="365.4" r="1.55" fill="#0b0b16"/>
<circle cx="174.2" cy="369.2" r="1.55" fill="#0b0b16"/>
<circle cx="177.2" cy="369.2" r="1.55" fill="#0b0b16"/>
<circle cx="181.1" cy="369.2" r="1.55" fill="#0b0b16"/>
<circle cx="196.5" cy="356.5" r="1.55" fill="#0b0b16"/>
<circle cx="194.5" cy="359.5" r="1.55" fill="#0b0b16"/>
<circle cx="199.1" cy="362.6" r="1.55" fill="#0b0b16"/>
<circle cx="194.2" cy="366.9" r="1.55" fill="#0b0b16"/>
<circle cx="198" cy="367.7" r="1.55" fill="#0b0b16"/>
<circle cx="192.6" cy="369.2" r="1.55" fill="#0b0b16"/>
<circle cx="201.1" cy="369.2" r="1.55" fill="#0b0b16"/>
<line x1="49.3" y1="293.6" x2="49.3" y2="372.5" stroke="#111" stroke-width="1.0" />
<line x1="48.8" y1="372.0" x2="210.0" y2="372.0" stroke="#111" stroke-width="1.2" />
<line x1="46.099999999999994" y1="372.0" x2="49.3" y2="372.0" stroke="#111" stroke-width="0.8" />
<text x="43.3" y="374.6" font-size="6.3" text-anchor="end" fill="#222" letter-spacing="0.15">0</text>
<line x1="46.099999999999994" y1="356.75" x2="49.3" y2="356.75" stroke="#111" stroke-width="0.8" />
<text x="43.3" y="359.35" font-size="6.3" text-anchor="end" fill="#222" letter-spacing="0.15">20</text>
<line x1="46.099999999999994" y1="341.5" x2="49.3" y2="341.5" stroke="#111" stroke-width="0.8" />
<text x="43.3" y="344.1" font-size="6.3" text-anchor="end" fill="#222" letter-spacing="0.15">40</text>
<line x1="46.099999999999994" y1="326.25" x2="49.3" y2="326.25" stroke="#111" stroke-width="0.8" />
<text x="43.3" y="328.85" font-size="6.3" text-anchor="end" fill="#222" letter-spacing="0.15">60</text>
<line x1="46.099999999999994" y1="311.0" x2="49.3" y2="311.0" stroke="#111" stroke-width="0.8" />
<text x="43.3" y="313.6" font-size="6.3" text-anchor="end" fill="#222" letter-spacing="0.15">80</text>
<line x1="46.099999999999994" y1="295.75" x2="49.3" y2="295.75" stroke="#111" stroke-width="0.8" />
<text x="43.3" y="298.35" font-size="6.3" text-anchor="end" fill="#222" letter-spacing="0.15">100</text>
<line x1="62.1" y1="372.0" x2="62.1" y2="374.8" stroke="#111" stroke-width="0.8" />
<line x1="81.4" y1="372.0" x2="81.4" y2="374.8" stroke="#111" stroke-width="0.8" />
<line x1="100.9" y1="372.0" x2="100.9" y2="374.8" stroke="#111" stroke-width="0.8" />
<line x1="120.2" y1="372.0" x2="120.2" y2="374.8" stroke="#111" stroke-width="0.8" />
<line x1="139.20000000000002" y1="372.0" x2="139.20000000000002" y2="374.8" stroke="#111" stroke-width="0.8" />
<line x1="158.50000000000003" y1="372.0" x2="158.50000000000003" y2="374.8" stroke="#111" stroke-width="0.8" />
<line x1="177.9" y1="372.0" x2="177.9" y2="374.8" stroke="#111" stroke-width="0.8" />
<line x1="197.20000000000002" y1="372.0" x2="197.20000000000002" y2="374.8" stroke="#111" stroke-width="0.8" />
<line x1="58.8" y1="299.5" x2="88.8" y2="299.5" stroke="#222" stroke-width="0.9" />
<circle cx="73.8" cy="296.1" r="0.8" fill="#111"/>
<line x1="96.3" y1="329.5" x2="125.8" y2="329.5" stroke="#222" stroke-width="0.9" />
<circle cx="111.05" cy="326.1" r="0.8" fill="#111"/>
<line x1="56.2" y1="378.3" x2="86.3" y2="378.3" stroke="#333" stroke-width="0.9" />
<line x1="95" y1="378.3" x2="125" y2="378.3" stroke="#333" stroke-width="0.9" />
<line x1="133.3" y1="378.3" x2="163.8" y2="378.3" stroke="#333" stroke-width="0.9" />
<line x1="172" y1="378.3" x2="202.5" y2="378.3" stroke="#333" stroke-width="0.9" />
<text x="70.8" y="387.6" font-size="6.6" text-anchor="middle" fill="#222" >G0</text>
<text x="109.3" y="387.6" font-size="6.6" text-anchor="middle" fill="#222" >G1</text>
<text x="148.3" y="387.6" font-size="6.6" text-anchor="middle" fill="#222" >S</text>
<text x="187" y="387.6" font-size="6.6" text-anchor="middle" fill="#222" >G2:M</text>
<text x="25.799999999999997" y="334.3" font-size="8.6" text-anchor="middle" fill="#1a1a1a" textLength="38.5" lengthAdjust="spacingAndGlyphs" transform="rotate(-90 25.799999999999997 334.3)" >% of HSC cells</text>
<text x="226.0" y="288.2" font-size="10.6" font-weight="bold" fill="#000" >I</text>
<text x="343.6" y="288.2" font-size="8.4" text-anchor="middle" >Aged</text>
<rect x="270.4" y="311.915" width="11.8" height="60.084999999999994" fill="#c80424" />
<rect x="289.59999999999997" y="327.0125" width="11.8" height="44.9875" fill="#3aa8e2" />
<rect x="308.5" y="368.11125" width="11.8" height="3.8887499999999995" fill="#c80424" />
<rect x="327.7" y="354.99625" width="11.8" height="17.00375" fill="#3aa8e2" />
<rect x="347.0" y="370.0175" width="11.8" height="1.9825" fill="#c80424" />
<rect x="366.2" y="366.89125" width="11.8" height="5.10875" fill="#3aa8e2" />
<rect x="385.5" y="367.73" width="11.8" height="4.27" fill="#c80424" />
<rect x="404.7" y="368.1875" width="11.8" height="3.8125" fill="#3aa8e2" />
<line x1="276.29999999999995" y1="307.34000000000003" x2="276.29999999999995" y2="316.49" stroke="#111" stroke-width="0.8" />
<line x1="273.69999999999993" y1="307.34000000000003" x2="278.9" y2="307.34000000000003" stroke="#111" stroke-width="0.8" />
<line x1="273.69999999999993" y1="316.49" x2="278.9" y2="316.49" stroke="#111" stroke-width="0.8" />
<line x1="295.49999999999994" y1="318.77750000000003" x2="295.49999999999994" y2="335.2475" stroke="#111" stroke-width="0.8" />
<line x1="292.8999999999999" y1="318.77750000000003" x2="298.09999999999997" y2="318.77750000000003" stroke="#111" stroke-width="0.8" />
<line x1="292.8999999999999" y1="335.2475" x2="298.09999999999997" y2="335.2475" stroke="#111" stroke-width="0.8" />
<line x1="314.4" y1="366.58625" x2="314.4" y2="369.63625" stroke="#111" stroke-width="0.8" />
<line x1="311.79999999999995" y1="366.58625" x2="317.0" y2="366.58625" stroke="#111" stroke-width="0.8" />
<line x1="311.79999999999995" y1="369.63625" x2="317.0" y2="369.63625" stroke="#111" stroke-width="0.8" />
<line x1="333.59999999999997" y1="350.11625" x2="333.59999999999997" y2="359.87625" stroke="#111" stroke-width="0.8" />
<line x1="330.99999999999994" y1="350.11625" x2="336.2" y2="350.11625" stroke="#111" stroke-width="0.8" />
<line x1="330.99999999999994" y1="359.87625" x2="336.2" y2="359.87625" stroke="#111" stroke-width="0.8" />
<line x1="352.9" y1="368.87375" x2="352.9" y2="371.16125" stroke="#111" stroke-width="0.8" />
<line x1="350.29999999999995" y1="368.87375" x2="355.5" y2="368.87375" stroke="#111" stroke-width="0.8" />
<line x1="350.29999999999995" y1="371.16125" x2="355.5" y2="371.16125" stroke="#111" stroke-width="0.8" />
<line x1="372.09999999999997" y1="364.60375" x2="372.09999999999997" y2="369.17875" stroke="#111" stroke-width="0.8" />
<line x1="369.49999999999994" y1="364.60375" x2="374.7" y2="364.60375" stroke="#111" stroke-width="0.8" />
<line x1="369.49999999999994" y1="369.17875" x2="374.7" y2="369.17875" stroke="#111" stroke-width="0.8" />
<line x1="391.4" y1="367.12" x2="391.4" y2="368.34" stroke="#111" stroke-width="0.8" />
<line x1="388.79999999999995" y1="367.12" x2="394.0" y2="367.12" stroke="#111" stroke-width="0.8" />
<line x1="388.79999999999995" y1="368.34" x2="394.0" y2="368.34" stroke="#111" stroke-width="0.8" />
<line x1="410.59999999999997" y1="365.9" x2="410.59999999999997" y2="370.475" stroke="#111" stroke-width="0.8" />
<line x1="407.99999999999994" y1="365.9" x2="413.2" y2="365.9" stroke="#111" stroke-width="0.8" />
<line x1="407.99999999999994" y1="370.475" x2="413.2" y2="370.475" stroke="#111" stroke-width="0.8" />
<circle cx="275.8" cy="304.5" r="1.55" fill="#0b0b16"/>
<circle cx="275.8" cy="310.4" r="1.55" fill="#0b0b16"/>
<circle cx="275.8" cy="317.3" r="1.55" fill="#0b0b16"/>
<circle cx="295.3" cy="307" r="1.55" fill="#0b0b16"/>
<circle cx="295.3" cy="311.9" r="1.55" fill="#0b0b16"/>
<circle cx="295.3" cy="319.3" r="1.55" fill="#0b0b16"/>
<circle cx="295.3" cy="343.9" r="1.55" fill="#0b0b16"/>
<circle cx="295.3" cy="348.8" r="1.55" fill="#0b0b16"/>
<circle cx="314.2" cy="364.5" r="1.55" fill="#0b0b16"/>
<circle cx="312.7" cy="367.3" r="1.55" fill="#0b0b16"/>
<circle cx="316.5" cy="367.3" r="1.55" fill="#0b0b16"/>
<circle cx="331.5" cy="345.8" r="1.55" fill="#0b0b16"/>
<circle cx="335.8" cy="343.9" r="1.55" fill="#0b0b16"/>
<circle cx="333.5" cy="356.5" r="1.55" fill="#0b0b16"/>
<circle cx="335.8" cy="361.2" r="1.55" fill="#0b0b16"/>
<circle cx="331.2" cy="363.5" r="1.55" fill="#0b0b16"/>
<circle cx="353" cy="365.7" r="1.55" fill="#0b0b16"/>
<circle cx="350.7" cy="370.3" r="1.55" fill="#0b0b16"/>
<circle cx="354.5" cy="370.3" r="1.55" fill="#0b0b16"/>
<circle cx="369.5" cy="362" r="1.55" fill="#0b0b16"/>
<circle cx="374.5" cy="363.1" r="1.55" fill="#0b0b16"/>
<circle cx="372.2" cy="365.1" r="1.55" fill="#0b0b16"/>
<circle cx="367.9" cy="367.7" r="1.55" fill="#0b0b16"/>
<circle cx="372.5" cy="371.2" r="1.55" fill="#0b0b16"/>
<circle cx="376.1" cy="371.2" r="1.55" fill="#0b0b16"/>
<circle cx="386.8" cy="368.2" r="1.55" fill="#0b0b16"/>
<circle cx="391.5" cy="368.2" r="1.55" fill="#0b0b16"/>
<circle cx="395.3" cy="368.2" r="1.55" fill="#0b0b16"/>
<circle cx="410.4" cy="360.5" r="1.55" fill="#0b0b16"/>
<circle cx="408.4" cy="366.9" r="1.55" fill="#0b0b16"/>
<circle cx="414.1" cy="366.9" r="1.55" fill="#0b0b16"/>
<circle cx="412.2" cy="368.5" r="1.55" fill="#0b0b16"/>
<circle cx="406.1" cy="370" r="1.55" fill="#0b0b16"/>
<circle cx="408.8" cy="371.8" r="1.55" fill="#0b0b16"/>
<circle cx="415.3" cy="370" r="1.55" fill="#0b0b16"/>
<line x1="263.3" y1="293.6" x2="263.3" y2="372.5" stroke="#111" stroke-width="1.0" />
<line x1="262.8" y1="372.0" x2="423.8" y2="372.0" stroke="#111" stroke-width="1.2" />
<line x1="260.1" y1="372.0" x2="263.3" y2="372.0" stroke="#111" stroke-width="0.8" />
<text x="257.3" y="374.6" font-size="6.3" text-anchor="end" fill="#222" letter-spacing="0.15">0</text>
<line x1="260.1" y1="356.75" x2="263.3" y2="356.75" stroke="#111" stroke-width="0.8" />
<text x="257.3" y="359.35" font-size="6.3" text-anchor="end" fill="#222" letter-spacing="0.15">20</text>
<line x1="260.1" y1="341.5" x2="263.3" y2="341.5" stroke="#111" stroke-width="0.8" />
<text x="257.3" y="344.1" font-size="6.3" text-anchor="end" fill="#222" letter-spacing="0.15">40</text>
<line x1="260.1" y1="326.25" x2="263.3" y2="326.25" stroke="#111" stroke-width="0.8" />
<text x="257.3" y="328.85" font-size="6.3" text-anchor="end" fill="#222" letter-spacing="0.15">60</text>
<line x1="260.1" y1="311.0" x2="263.3" y2="311.0" stroke="#111" stroke-width="0.8" />
<text x="257.3" y="313.6" font-size="6.3" text-anchor="end" fill="#222" letter-spacing="0.15">80</text>
<line x1="260.1" y1="295.75" x2="263.3" y2="295.75" stroke="#111" stroke-width="0.8" />
<text x="257.3" y="298.35" font-size="6.3" text-anchor="end" fill="#222" letter-spacing="0.15">100</text>
<line x1="276.29999999999995" y1="372.0" x2="276.29999999999995" y2="374.8" stroke="#111" stroke-width="0.8" />
<line x1="295.49999999999994" y1="372.0" x2="295.49999999999994" y2="374.8" stroke="#111" stroke-width="0.8" />
<line x1="314.4" y1="372.0" x2="314.4" y2="374.8" stroke="#111" stroke-width="0.8" />
<line x1="333.59999999999997" y1="372.0" x2="333.59999999999997" y2="374.8" stroke="#111" stroke-width="0.8" />
<line x1="352.9" y1="372.0" x2="352.9" y2="374.8" stroke="#111" stroke-width="0.8" />
<line x1="372.09999999999997" y1="372.0" x2="372.09999999999997" y2="374.8" stroke="#111" stroke-width="0.8" />
<line x1="391.4" y1="372.0" x2="391.4" y2="374.8" stroke="#111" stroke-width="0.8" />
<line x1="410.59999999999997" y1="372.0" x2="410.59999999999997" y2="374.8" stroke="#111" stroke-width="0.8" />
<line x1="270.4" y1="297.3" x2="298.5" y2="297.3" stroke="#222" stroke-width="0.9" />
<circle cx="284.45" cy="293.90000000000003" r="0.8" fill="#111"/>
<line x1="270.8" y1="378.3" x2="301.3" y2="378.3" stroke="#333" stroke-width="0.9" />
<line x1="311.3" y1="378.3" x2="341.3" y2="378.3" stroke="#333" stroke-width="0.9" />
<line x1="348.8" y1="378.3" x2="378.8" y2="378.3" stroke="#333" stroke-width="0.9" />
<line x1="387.5" y1="378.3" x2="417.5" y2="378.3" stroke="#333" stroke-width="0.9" />
<text x="287" y="387.6" font-size="6.6" text-anchor="middle" fill="#222" >G0</text>
<text x="325" y="387.6" font-size="6.6" text-anchor="middle" fill="#222" >G1</text>
<text x="363.8" y="387.6" font-size="6.6" text-anchor="middle" fill="#222" >S</text>
<text x="402.5" y="387.6" font-size="6.6" text-anchor="middle" fill="#222" >G2:M</text>
<text x="239.8" y="334.3" font-size="8.6" text-anchor="middle" fill="#1a1a1a" textLength="38.5" lengthAdjust="spacingAndGlyphs" transform="rotate(-90 239.8 334.3)" >% of HSC cells</text>
<rect x="427.0" y="324.6" width="5.9" height="5.8" fill="#c80424" />
<rect x="427.0" y="335.0" width="5.9" height="5.8" fill="#3aa8e2" />
<text x="436.4" y="330.2" font-size="6.7" font-style="italic" fill="#222" >WT</text>
<text x="436.4" y="340.6" font-size="6.7" font-style="italic" fill="#222" >Gata2+/−</text>
<text x="6.8" y="414.4" font-size="10.6" font-weight="bold" fill="#000" >J</text>
<text x="110.7" y="414.6" font-size="8.3" text-anchor="middle" >Proliferation 3 days</text>
<text x="110.7" y="425.0" font-size="8.3" text-anchor="middle" >(young)</text>
<rect x="59.3" y="475.174" width="18.7" height="40.626" fill="#c8c8cc" />
<rect x="80.2" y="462.68649999999997" width="18.7" height="53.1135" fill="#c2661a" />
<rect x="123.0" y="474.59124999999995" width="18.7" height="41.20875" fill="#c8c8cc" />
<rect x="144.5" y="487.66149999999993" width="18.7" height="28.138499999999997" fill="#c2661a" />
<line x1="68.6" y1="461.02149999999995" x2="68.6" y2="475.174" stroke="#666" stroke-width="1.1" />
<line x1="63.99999999999999" y1="461.02149999999995" x2="73.19999999999999" y2="461.02149999999995" stroke="#666" stroke-width="1.1" />
<line x1="89.8" y1="453.36249999999995" x2="89.8" y2="462.68649999999997" stroke="#555" stroke-width="1.1" />
<line x1="85.2" y1="453.36249999999995" x2="94.39999999999999" y2="453.36249999999995" stroke="#555" stroke-width="1.1" />
<line x1="132.4" y1="460.18899999999996" x2="132.4" y2="474.59124999999995" stroke="#666" stroke-width="1.1" />
<line x1="127.80000000000001" y1="460.18899999999996" x2="137.0" y2="460.18899999999996" stroke="#666" stroke-width="1.1" />
<line x1="153.9" y1="478.92024999999995" x2="153.9" y2="487.66149999999993" stroke="#555" stroke-width="1.1" />
<line x1="149.3" y1="478.92024999999995" x2="158.5" y2="478.92024999999995" stroke="#555" stroke-width="1.1" />
<circle cx="68.6" cy="442.1" r="1.35" fill="#0b0b0b"/>
<circle cx="68.6" cy="445.8" r="1.35" fill="#0b0b0b"/>
<circle cx="68.6" cy="483.6" r="1.35" fill="#0b0b0b"/>
<circle cx="68.6" cy="498.1" r="1.35" fill="#0b0b0b"/>
<circle cx="68.6" cy="505.6" r="1.35" fill="#0b0b0b"/>
<circle cx="88.3" cy="442.5" r="1.35" fill="#0b0b0b"/>
<circle cx="91.6" cy="442.5" r="1.35" fill="#0b0b0b"/>
<circle cx="89.8" cy="468.4" r="1.35" fill="#2a0800"/>
<circle cx="89.8" cy="474.4" r="1.35" fill="#2a0800"/>
<circle cx="89.8" cy="481.7" r="1.35" fill="#2a0800"/>
<circle cx="132.5" cy="443.8" r="1.35" fill="#0b0b0b"/>
<circle cx="132.5" cy="451.3" r="1.35" fill="#0b0b0b"/>
<circle cx="132.5" cy="465.5" r="1.35" fill="#0b0b0b"/>
<circle cx="132.5" cy="502.5" r="1.35" fill="#0b0b0b"/>
<circle cx="132.5" cy="507.5" r="1.35" fill="#0b0b0b"/>
<circle cx="153.3" cy="467.5" r="1.35" fill="#0b0b0b"/>
<circle cx="153.3" cy="475" r="1.35" fill="#0b0b0b"/>
<circle cx="153.3" cy="482.5" r="1.35" fill="#2a0800"/>
<circle cx="152" cy="506.3" r="1.35" fill="#2a0800"/>
<circle cx="154.6" cy="506.3" r="1.35" fill="#2a0800"/>
<line x1="49.3" y1="431.3" x2="49.3" y2="516.3" stroke="#222" stroke-width="1.0" />
<line x1="48.8" y1="515.8" x2="172.0" y2="515.8" stroke="#333" stroke-width="1.3" />
<line x1="46.099999999999994" y1="515.8" x2="49.3" y2="515.8" stroke="#222" stroke-width="0.8" />
<text x="43.3" y="518.1999999999999" font-size="6.3" text-anchor="end" fill="#222" letter-spacing="0.15">0</text>
<line x1="46.099999999999994" y1="499.15" x2="49.3" y2="499.15" stroke="#222" stroke-width="0.8" />
<text x="43.3" y="501.54999999999995" font-size="6.3" text-anchor="end" fill="#222" letter-spacing="0.15">20</text>
<line x1="46.099999999999994" y1="482.49999999999994" x2="49.3" y2="482.49999999999994" stroke="#222" stroke-width="0.8" />
<text x="43.3" y="484.8999999999999" font-size="6.3" text-anchor="end" fill="#222" letter-spacing="0.15">40</text>
<line x1="46.099999999999994" y1="465.84999999999997" x2="49.3" y2="465.84999999999997" stroke="#222" stroke-width="0.8" />
<text x="43.3" y="468.24999999999994" font-size="6.3" text-anchor="end" fill="#222" letter-spacing="0.15">60</text>
<line x1="46.099999999999994" y1="449.19999999999993" x2="49.3" y2="449.19999999999993" stroke="#222" stroke-width="0.8" />
<text x="43.3" y="451.5999999999999" font-size="6.3" text-anchor="end" fill="#222" letter-spacing="0.15">80</text>
<line x1="46.099999999999994" y1="432.54999999999995" x2="49.3" y2="432.54999999999995" stroke="#222" stroke-width="0.8" />
<text x="43.3" y="434.94999999999993" font-size="6.3" text-anchor="end" fill="#222" letter-spacing="0.15">100</text>
<line x1="59.3" y1="519.0" x2="98.8" y2="519.0" stroke="#707070" stroke-width="1.5" />
<line x1="123.8" y1="519.0" x2="162.5" y2="519.0" stroke="#707070" stroke-width="1.5" />
<text x="79.2" y="527.6" font-size="6.2" text-anchor="middle" fill="#222" >div.0-4</text>
<text x="143.1" y="527.6" font-size="6.2" text-anchor="middle" fill="#222" >div.>5</text>
<text x="26.299999999999997" y="474.7" font-size="8.6" text-anchor="middle" fill="#1a1a1a" textLength="38.2" lengthAdjust="spacingAndGlyphs" transform="rotate(-90 26.299999999999997 474.7)" >% of Live cells</text>
<text x="194.4" y="414.4" font-size="10.6" font-weight="bold" fill="#000" >K</text>
<text x="295.0" y="414.6" font-size="8.3" text-anchor="middle" >Proliferation 3 days</text>
<text x="295.0" y="425.0" font-size="8.3" text-anchor="middle" >(aged)</text>
<rect x="243.0" y="476.83899999999994" width="18.7" height="38.961" fill="#c8c8cc" />
<rect x="264.3" y="456.859" width="18.7" height="58.940999999999995" fill="#c2661a" />
<rect x="307.0" y="473.09274999999997" width="18.7" height="42.70725" fill="#c8c8cc" />
<rect x="328.3" y="493.90524999999997" width="18.7" height="21.894750000000002" fill="#c2661a" />
<line x1="252.4" y1="471.17799999999994" x2="252.4" y2="476.83899999999994" stroke="#222" stroke-width="1.1" />
<line x1="247.8" y1="471.17799999999994" x2="257.0" y2="471.17799999999994" stroke="#222" stroke-width="1.1" />
<line x1="273.6" y1="452.53" x2="273.6" y2="456.859" stroke="#333" stroke-width="1.1" />
<line x1="269.0" y1="452.53" x2="278.20000000000005" y2="452.53" stroke="#333" stroke-width="1.1" />
<line x1="316.4" y1="468.26424999999995" x2="316.4" y2="473.09274999999997" stroke="#222" stroke-width="1.1" />
<line x1="311.79999999999995" y1="468.26424999999995" x2="321.0" y2="468.26424999999995" stroke="#222" stroke-width="1.1" />
<line x1="337.6" y1="488.82699999999994" x2="337.6" y2="493.90524999999997" stroke="#333" stroke-width="1.1" />
<line x1="333.0" y1="488.82699999999994" x2="342.20000000000005" y2="488.82699999999994" stroke="#333" stroke-width="1.1" />
<circle cx="252" cy="458.3" r="1.35" fill="#0b0b0b"/>
<circle cx="252" cy="466.3" r="1.35" fill="#0b0b0b"/>
<circle cx="250" cy="470" r="1.35" fill="#0b0b0b"/>
<circle cx="253" cy="472.5" r="1.35" fill="#0b0b0b"/>
<circle cx="251.3" cy="475" r="1.35" fill="#0b0b0b"/>
<circle cx="252" cy="481.3" r="1.35" fill="#0b0b0b"/>
<circle cx="252" cy="487" r="1.35" fill="#0b0b0b"/>
<circle cx="252" cy="496.3" r="1.35" fill="#0b0b0b"/>
<circle cx="270.8" cy="445" r="1.35" fill="#0b0b0b"/>
<circle cx="273.3" cy="446.3" r="1.35" fill="#0b0b0b"/>
<circle cx="275.8" cy="446.3" r="1.35" fill="#0b0b0b"/>
<circle cx="272.5" cy="455" r="1.35" fill="#2a0800"/>
<circle cx="274.5" cy="453.5" r="1.35" fill="#2a0800"/>
<circle cx="273.3" cy="471.3" r="1.35" fill="#2a0800"/>
<circle cx="273.3" cy="474.3" r="1.35" fill="#2a0800"/>
<circle cx="316.3" cy="452.5" r="1.35" fill="#0b0b0b"/>
<circle cx="316.3" cy="462" r="1.35" fill="#0b0b0b"/>
<circle cx="316.3" cy="465" r="1.35" fill="#0b0b0b"/>
<circle cx="316.3" cy="472.1" r="1.35" fill="#0b0b0b"/>
<circle cx="316.3" cy="476.7" r="1.35" fill="#0b0b0b"/>
<circle cx="316.3" cy="479.6" r="1.35" fill="#0b0b0b"/>
<circle cx="316.3" cy="485.4" r="1.35" fill="#0b0b0b"/>
<circle cx="316.3" cy="489.5" r="1.35" fill="#0b0b0b"/>
<circle cx="336" cy="477.2" r="1.35" fill="#0b0b0b"/>
<circle cx="338.5" cy="476" r="1.35" fill="#0b0b0b"/>
<circle cx="338.5" cy="493.6" r="1.35" fill="#2a0800"/>
<circle cx="336" cy="496" r="1.35" fill="#2a0800"/>
<circle cx="335.8" cy="502.2" r="1.35" fill="#2a0800"/>
<circle cx="338" cy="502.2" r="1.35" fill="#2a0800"/>
<circle cx="337" cy="505.1" r="1.35" fill="#2a0800"/>
<line x1="232.8" y1="431.3" x2="232.8" y2="516.3" stroke="#222" stroke-width="1.0" />
<line x1="232.3" y1="515.8" x2="357.5" y2="515.8" stroke="#333" stroke-width="1.3" />
<line x1="229.60000000000002" y1="515.8" x2="232.8" y2="515.8" stroke="#222" stroke-width="0.8" />
<text x="225.8" y="518.1999999999999" font-size="6.3" text-anchor="end" fill="#222" letter-spacing="0.15">0</text>
<line x1="229.60000000000002" y1="499.15" x2="232.8" y2="499.15" stroke="#222" stroke-width="0.8" />
<text x="225.8" y="501.54999999999995" font-size="6.3" text-anchor="end" fill="#222" letter-spacing="0.15">20</text>
<line x1="229.60000000000002" y1="482.49999999999994" x2="232.8" y2="482.49999999999994" stroke="#222" stroke-width="0.8" />
<text x="225.8" y="484.8999999999999" font-size="6.3" text-anchor="end" fill="#222" letter-spacing="0.15">40</text>
<line x1="229.60000000000002" y1="465.84999999999997" x2="232.8" y2="465.84999999999997" stroke="#222" stroke-width="0.8" />
<text x="225.8" y="468.24999999999994" font-size="6.3" text-anchor="end" fill="#222" letter-spacing="0.15">60</text>
<line x1="229.60000000000002" y1="449.19999999999993" x2="232.8" y2="449.19999999999993" stroke="#222" stroke-width="0.8" />
<text x="225.8" y="451.5999999999999" font-size="6.3" text-anchor="end" fill="#222" letter-spacing="0.15">80</text>
<line x1="229.60000000000002" y1="432.54999999999995" x2="232.8" y2="432.54999999999995" stroke="#222" stroke-width="0.8" />
<text x="225.8" y="434.94999999999993" font-size="6.3" text-anchor="end" fill="#222" letter-spacing="0.15">100</text>
<line x1="245.8" y1="437.0" x2="278.0" y2="437.0" stroke="#333" stroke-width="1.0" />
<circle cx="260.2" cy="433.40000000000003" r="0.75" fill="#111"/>
<circle cx="262.59999999999997" cy="433.40000000000003" r="0.75" fill="#111"/>
<line x1="315.2" y1="445.0" x2="346.2" y2="445.0" stroke="#333" stroke-width="1.0" />
<circle cx="329.0" cy="441.40000000000003" r="0.75" fill="#111"/>
<circle cx="331.4" cy="441.40000000000003" r="0.75" fill="#111"/>
<line x1="243.8" y1="519.0" x2="282.5" y2="519.0" stroke="#707070" stroke-width="1.5" />
<line x1="307.0" y1="519.0" x2="346.3" y2="519.0" stroke="#707070" stroke-width="1.5" />
<text x="262.8" y="527.6" font-size="6.2" text-anchor="middle" fill="#222" >div.0-4</text>
<text x="326.7" y="527.6" font-size="6.2" text-anchor="middle" fill="#222" >div.>5</text>
<text x="209.8" y="474.7" font-size="8.6" text-anchor="middle" fill="#1a1a1a" textLength="38.2" lengthAdjust="spacingAndGlyphs" transform="rotate(-90 209.8 474.7)" >% of Live cells</text>
<rect x="360.8" y="464.5" width="5.5" height="5.5" fill="#c8c8cc" />
<rect x="360.8" y="474.5" width="5.5" height="5.5" fill="#c2661a" />
<text x="370.0" y="469.8" font-size="6.4" font-style="italic" fill="#222" >Gata2fl/+</text>
<text x="370.0" y="479.8" font-size="6.4" font-style="italic" fill="#222" >vav-Cre;Gata2fl/+</text>
<text x="6.8" y="555.6" font-size="10.6" font-weight="bold" fill="#000" >L</text>
<text x="132.5" y="566.3" font-size="8.3" text-anchor="middle" >γH2AX signal (BM)</text>
<text x="133.1" y="575.6" font-size="8.3" text-anchor="middle" >after primary transplantation</text>
<rect x="48.0" y="643.6837499999999" width="7.5" height="24.616249999999987" fill="#c80424" />
<rect x="59.3" y="640.54125" width="7.5" height="27.758749999999985" fill="#3aa8e2" />
<rect x="78.35" y="643.6837499999999" width="7.5" height="24.616249999999987" fill="#c80424" />
<rect x="89.64999999999999" y="636.875" width="7.5" height="31.424999999999983" fill="#3aa8e2" />
<rect x="108.7" y="656.7774999999999" width="7.5" height="11.522499999999994" fill="#c80424" />
<rect x="120.0" y="647.3499999999999" width="7.5" height="20.94999999999999" fill="#3aa8e2" />
<rect x="139.05" y="652.0637499999999" width="7.5" height="16.23624999999999" fill="#c80424" />
<rect x="150.35000000000002" y="646.82625" width="7.5" height="21.47374999999999" fill="#3aa8e2" />
<rect x="169.4" y="640.54125" width="7.5" height="27.758749999999985" fill="#c80424" />
<rect x="180.70000000000002" y="621.68625" width="7.5" height="46.613749999999975" fill="#3aa8e2" />
<rect x="199.75" y="642.1125" width="7.5" height="26.187499999999986" fill="#c80424" />
<rect x="211.05" y="636.3512499999999" width="7.5" height="31.948749999999983" fill="#3aa8e2" />
<line x1="51.75" y1="641.7982499999999" x2="51.75" y2="645.56925" stroke="#1a1a2a" stroke-width="0.9" />
<line x1="49.35" y1="641.7982499999999" x2="54.15" y2="641.7982499999999" stroke="#1a1a2a" stroke-width="0.9" />
<line x1="49.35" y1="645.56925" x2="54.15" y2="645.56925" stroke="#1a1a2a" stroke-width="0.9" />
<line x1="63.05" y1="638.65575" x2="63.05" y2="642.42675" stroke="#1a1a2a" stroke-width="0.9" />
<line x1="60.65" y1="638.65575" x2="65.45" y2="638.65575" stroke="#1a1a2a" stroke-width="0.9" />
<line x1="60.65" y1="642.42675" x2="65.45" y2="642.42675" stroke="#1a1a2a" stroke-width="0.9" />
<line x1="82.1" y1="641.0649999999999" x2="82.1" y2="646.3025" stroke="#1a1a2a" stroke-width="0.9" />
<line x1="79.69999999999999" y1="641.0649999999999" x2="84.5" y2="641.0649999999999" stroke="#1a1a2a" stroke-width="0.9" />
<line x1="79.69999999999999" y1="646.3025" x2="84.5" y2="646.3025" stroke="#1a1a2a" stroke-width="0.9" />
<line x1="93.39999999999999" y1="633.41825" x2="93.39999999999999" y2="640.3317499999999" stroke="#1a1a2a" stroke-width="0.9" />
<line x1="90.99999999999999" y1="633.41825" x2="95.8" y2="633.41825" stroke="#1a1a2a" stroke-width="0.9" />
<line x1="90.99999999999999" y1="640.3317499999999" x2="95.8" y2="640.3317499999999" stroke="#1a1a2a" stroke-width="0.9" />
<line x1="112.45" y1="654.473" x2="112.45" y2="659.082" stroke="#1a1a2a" stroke-width="0.9" />
<line x1="110.05" y1="654.473" x2="114.85000000000001" y2="654.473" stroke="#1a1a2a" stroke-width="0.9" />
<line x1="110.05" y1="659.082" x2="114.85000000000001" y2="659.082" stroke="#1a1a2a" stroke-width="0.9" />
<line x1="123.75" y1="644.2075" x2="123.75" y2="650.4925" stroke="#1a1a2a" stroke-width="0.9" />
<line x1="121.35" y1="644.2075" x2="126.15" y2="644.2075" stroke="#1a1a2a" stroke-width="0.9" />
<line x1="121.35" y1="650.4925" x2="126.15" y2="650.4925" stroke="#1a1a2a" stroke-width="0.9" />
<line x1="142.8" y1="646.3025" x2="142.8" y2="657.8249999999999" stroke="#1a1a2a" stroke-width="0.9" />
<line x1="140.4" y1="646.3025" x2="145.20000000000002" y2="646.3025" stroke="#1a1a2a" stroke-width="0.9" />
<line x1="140.4" y1="657.8249999999999" x2="145.20000000000002" y2="657.8249999999999" stroke="#1a1a2a" stroke-width="0.9" />
<line x1="154.10000000000002" y1="642.63625" x2="154.10000000000002" y2="651.01625" stroke="#1a1a2a" stroke-width="0.9" />
<line x1="151.70000000000002" y1="642.63625" x2="156.50000000000003" y2="642.63625" stroke="#1a1a2a" stroke-width="0.9" />
<line x1="151.70000000000002" y1="651.01625" x2="156.50000000000003" y2="651.01625" stroke="#1a1a2a" stroke-width="0.9" />
<line x1="173.15" y1="637.39875" x2="173.15" y2="643.6837499999999" stroke="#1a1a2a" stroke-width="0.9" />
<line x1="170.75" y1="637.39875" x2="175.55" y2="637.39875" stroke="#1a1a2a" stroke-width="0.9" />
<line x1="170.75" y1="643.6837499999999" x2="175.55" y2="643.6837499999999" stroke="#1a1a2a" stroke-width="0.9" />
<line x1="184.45000000000002" y1="613.30625" x2="184.45000000000002" y2="630.06625" stroke="#1a1a2a" stroke-width="0.9" />
<line x1="182.05" y1="613.30625" x2="186.85000000000002" y2="613.30625" stroke="#1a1a2a" stroke-width="0.9" />
<line x1="182.05" y1="630.06625" x2="186.85000000000002" y2="630.06625" stroke="#1a1a2a" stroke-width="0.9" />
<line x1="203.5" y1="641.2745" x2="203.5" y2="642.9504999999999" stroke="#1a1a2a" stroke-width="0.9" />
<line x1="201.1" y1="641.2745" x2="205.9" y2="641.2745" stroke="#1a1a2a" stroke-width="0.9" />
<line x1="201.1" y1="642.9504999999999" x2="205.9" y2="642.9504999999999" stroke="#1a1a2a" stroke-width="0.9" />
<line x1="214.8" y1="629.01875" x2="214.8" y2="643.6837499999999" stroke="#1a1a2a" stroke-width="0.9" />
<line x1="212.4" y1="629.01875" x2="217.20000000000002" y2="629.01875" stroke="#1a1a2a" stroke-width="0.9" />
<line x1="212.4" y1="643.6837499999999" x2="217.20000000000002" y2="643.6837499999999" stroke="#1a1a2a" stroke-width="0.9" />
<line x1="43.8" y1="581.8" x2="43.8" y2="668.8" stroke="#111" stroke-width="1.0" />
<line x1="43.3" y1="668.3" x2="217.6" y2="668.3" stroke="#111" stroke-width="1.2" />
<line x1="40.6" y1="668.3" x2="43.8" y2="668.3" stroke="#111" stroke-width="0.8" />
<text x="38.1" y="670.5999999999999" font-size="6.3" text-anchor="end" fill="#222" letter-spacing="0.4">0</text>
<line x1="40.6" y1="647.3499999999999" x2="43.8" y2="647.3499999999999" stroke="#111" stroke-width="0.8" />
<text x="38.1" y="649.6499999999999" font-size="6.3" text-anchor="end" fill="#222" letter-spacing="0.4">200</text>
<line x1="40.6" y1="626.4" x2="43.8" y2="626.4" stroke="#111" stroke-width="0.8" />
<text x="38.1" y="628.6999999999999" font-size="6.3" text-anchor="end" fill="#222" letter-spacing="0.4">400</text>
<line x1="40.6" y1="605.45" x2="43.8" y2="605.45" stroke="#111" stroke-width="0.8" />
<text x="38.1" y="607.75" font-size="6.3" text-anchor="end" fill="#222" letter-spacing="0.4">600</text>
<line x1="40.6" y1="584.5" x2="43.8" y2="584.5" stroke="#111" stroke-width="0.8" />
<text x="38.1" y="586.8" font-size="6.3" text-anchor="end" fill="#222" letter-spacing="0.4">800</text>
<line x1="57.0" y1="668.3" x2="57.0" y2="671.0999999999999" stroke="#111" stroke-width="0.8" />
<line x1="46.7" y1="674.5" x2="67.0" y2="674.5" stroke="#777" stroke-width="1.5" />
<text x="57.6" y="683.8" font-size="6.6" text-anchor="middle" fill="#222" >LK</text>
<line x1="87.35" y1="668.3" x2="87.35" y2="671.0999999999999" stroke="#111" stroke-width="0.8" />
<line x1="77.05" y1="674.5" x2="97.35" y2="674.5" stroke="#777" stroke-width="1.5" />
<text x="87.94999999999999" y="683.8" font-size="6.6" text-anchor="middle" fill="#222" >LSK</text>
<line x1="117.7" y1="668.3" x2="117.7" y2="671.0999999999999" stroke="#111" stroke-width="0.8" />
<line x1="107.4" y1="674.5" x2="127.7" y2="674.5" stroke="#777" stroke-width="1.5" />
<text x="118.3" y="683.8" font-size="6.6" text-anchor="middle" fill="#222" >HSC</text>
<line x1="148.05" y1="668.3" x2="148.05" y2="671.0999999999999" stroke="#111" stroke-width="0.8" />
<line x1="137.75" y1="674.5" x2="158.05" y2="674.5" stroke="#777" stroke-width="1.5" />
<text x="148.65" y="683.8" font-size="6.6" text-anchor="middle" fill="#222" >MPP</text>
<line x1="178.4" y1="668.3" x2="178.4" y2="671.0999999999999" stroke="#111" stroke-width="0.8" />
<line x1="168.1" y1="674.5" x2="188.4" y2="674.5" stroke="#777" stroke-width="1.5" />
<text x="179.0" y="683.8" font-size="6.6" text-anchor="middle" fill="#222" >HPC1</text>
<line x1="208.75" y1="668.3" x2="208.75" y2="671.0999999999999" stroke="#111" stroke-width="0.8" />
<line x1="198.45" y1="674.5" x2="218.75" y2="674.5" stroke="#777" stroke-width="1.5" />
<text x="209.35" y="683.8" font-size="6.6" text-anchor="middle" fill="#222" >HPC2</text>
<line x1="108.3" y1="637.0" x2="127.6" y2="637.0" stroke="#222" stroke-width="0.9" />
<circle cx="117.8" cy="633.4" r="0.8" fill="#111"/>
<line x1="170.5" y1="608.3" x2="190.5" y2="608.3" stroke="#222" stroke-width="0.9" />
<circle cx="180.5" cy="604.6999999999999" r="0.8" fill="#111"/>
<text x="21.5" y="626.4" font-size="8.4" text-anchor="middle" fill="#222" transform="rotate(-90 21.5 626.4)" >γH2AX MFI</text>
<text x="238.6" y="571.3" font-size="10.6" font-weight="bold" fill="#000" >M</text>
<text x="239.4" y="632.6" font-size="10.6" font-weight="bold" fill="#000" >N</text>
<defs>
<filter id="blur1" x="-30%" y="-30%" width="160%" height="160%"><feGaussianBlur stdDeviation="0.9"/></filter>
<filter id="tex" x="-30%" y="-30%" width="160%" height="160%">
 <feTurbulence type="fractalNoise" baseFrequency="0.55" numOctaves="2" seed="3" result="n"/>
 <feColorMatrix in="n" type="matrix" values="0 0 0 0 0  0 0 0 0 0  0 0 0 0 0  0 0 0 -1.2 1.15" result="a"/>
 <feComposite in="SourceGraphic" in2="a" operator="in"/>
 <feGaussianBlur stdDeviation="0.35"/>
</filter>
<clipPath id="clipM"><rect x="251.5" y="562.4" width="60.3" height="58.6"/></clipPath>
<clipPath id="clipN"><rect x="251.4" y="623.7" width="60.4" height="58.4"/></clipPath>
</defs>
<rect x="251.5" y="562.4" width="60.3" height="58.6" fill="#050505" />
<rect x="251.4" y="623.7" width="60.4" height="58.4" fill="#050505" />
<defs><linearGradient id="bg1" gradientUnits="userSpaceOnUse" x1="280" y1="568" x2="297" y2="584"><stop offset="0" stop-color="#44dcde"/><stop offset="1" stop-color="#26aeb2"/></linearGradient></defs>
<g clip-path="url(#clipM)"><path d="M279.4,568.5 C279.9,568.0 281.5,567.0 282.6,567.2 C283.7,567.4 284.9,569.1 285.9,569.8 C286.9,570.4 287.4,570.5 288.5,571.1 C289.6,571.8 291.2,572.8 292.4,573.7 C293.6,574.6 294.8,575.3 295.7,576.3 C296.6,577.3 297.4,578.5 297.7,579.6 C298.0,580.7 297.8,582.0 297.4,582.8 C297.0,583.5 296.0,584.0 295.1,584.1 C294.2,584.2 292.9,583.9 291.8,583.5 C290.7,583.1 289.6,582.3 288.5,581.5 C287.4,580.7 286.4,579.8 285.3,578.9 C284.2,578.0 283.1,577.3 282.2,576.3 C281.3,575.3 280.5,574.0 280.0,573.0 C279.5,572.0 279.5,571.1 279.4,570.4 C279.3,569.6 278.9,569.0 279.4,568.5Z" fill="#1a9a9e" filter="url(#blur1)"/><path d="M279.4,568.5 C279.9,568.0 281.5,567.0 282.6,567.2 C283.7,567.4 284.9,569.1 285.9,569.8 C286.9,570.4 287.4,570.5 288.5,571.1 C289.6,571.8 291.2,572.8 292.4,573.7 C293.6,574.6 294.8,575.3 295.7,576.3 C296.6,577.3 297.4,578.5 297.7,579.6 C298.0,580.7 297.8,582.0 297.4,582.8 C297.0,583.5 296.0,584.0 295.1,584.1 C294.2,584.2 292.9,583.9 291.8,583.5 C290.7,583.1 289.6,582.3 288.5,581.5 C287.4,580.7 286.4,579.8 285.3,578.9 C284.2,578.0 283.1,577.3 282.2,576.3 C281.3,575.3 280.5,574.0 280.0,573.0 C279.5,572.0 279.5,571.1 279.4,570.4 C279.3,569.6 278.9,569.0 279.4,568.5Z" fill="url(#bg1)" filter="url(#tex)"/><ellipse cx="287.5" cy="574.5" rx="1.0" ry="0.7" fill="#062a2c" opacity="0.85" filter="url(#blur1)"/></g>
<defs><linearGradient id="bg2" gradientUnits="userSpaceOnUse" x1="263" y1="599" x2="281" y2="612"><stop offset="0" stop-color="#3fd8da"/><stop offset="1" stop-color="#177a7e"/></linearGradient></defs>
<g clip-path="url(#clipM)"><path d="M261.1,601.1 C261.4,599.9 262.6,599.1 263.7,598.5 C264.8,597.9 266.3,597.2 267.6,597.2 C268.9,597.2 270.4,598.1 271.5,598.5 C272.6,598.9 273.3,599.8 274.1,599.8 C274.9,599.8 275.2,598.6 276.1,598.5 C277.0,598.4 278.3,598.8 279.4,599.2 C280.5,599.6 281.9,600.1 282.6,601.1 C283.4,602.1 283.8,603.7 283.9,605.1 C284.0,606.5 283.8,608.4 283.3,609.6 C282.8,610.8 281.8,611.7 280.7,612.2 C279.6,612.7 278.0,612.7 276.8,612.6 C275.6,612.5 274.5,612.0 273.5,611.6 C272.5,611.2 271.9,610.6 270.9,610.3 C269.9,610.0 268.7,609.9 267.6,609.6 C266.5,609.3 265.3,608.9 264.3,608.3 C263.3,607.6 262.2,606.9 261.7,605.7 C261.2,604.5 260.8,602.3 261.1,601.1Z" fill="#1a9a9e" filter="url(#blur1)"/><path d="M261.1,601.1 C261.4,599.9 262.6,599.1 263.7,598.5 C264.8,597.9 266.3,597.2 267.6,597.2 C268.9,597.2 270.4,598.1 271.5,598.5 C272.6,598.9 273.3,599.8 274.1,599.8 C274.9,599.8 275.2,598.6 276.1,598.5 C277.0,598.4 278.3,598.8 279.4,599.2 C280.5,599.6 281.9,600.1 282.6,601.1 C283.4,602.1 283.8,603.7 283.9,605.1 C284.0,606.5 283.8,608.4 283.3,609.6 C282.8,610.8 281.8,611.7 280.7,612.2 C279.6,612.7 278.0,612.7 276.8,612.6 C275.6,612.5 274.5,612.0 273.5,611.6 C272.5,611.2 271.9,610.6 270.9,610.3 C269.9,610.0 268.7,609.9 267.6,609.6 C266.5,609.3 265.3,608.9 264.3,608.3 C263.3,607.6 262.2,606.9 261.7,605.7 C261.2,604.5 260.8,602.3 261.1,601.1Z" fill="url(#bg2)" filter="url(#tex)"/><ellipse cx="269.5" cy="605.8" rx="1.8" ry="1.26" fill="#062a2c" opacity="0.85" filter="url(#blur1)"/><ellipse cx="276" cy="604" rx="0.9" ry="0.63" fill="#062a2c" opacity="0.85" filter="url(#blur1)"/><ellipse cx="279" cy="609" rx="1.0" ry="0.7" fill="#062a2c" opacity="0.85" filter="url(#blur1)"/></g>
<g clip-path="url(#clipM)"><ellipse cx="251.5" cy="564" rx="4" ry="8" fill="#1a7e82" opacity="0.7" filter="url(#blur1)"/><ellipse cx="311.5" cy="563.5" rx="4.5" ry="5" fill="#1a7e82" opacity="0.7" filter="url(#blur1)"/></g>
<g clip-path="url(#clipN)"><path d="M274.1,632.4 C274.7,631.3 276.1,630.9 277.4,630.5 C278.7,630.1 280.6,629.7 282.0,629.8 C283.4,629.9 284.6,630.7 285.9,631.1 C287.2,631.5 288.6,631.9 289.8,632.4 C291.0,632.9 292.3,633.5 293.1,634.4 C293.9,635.3 294.4,636.5 294.4,637.6 C294.4,638.7 293.9,639.9 293.1,640.9 C292.3,641.9 291.0,642.9 289.8,643.5 C288.6,644.1 287.2,644.6 285.9,644.8 C284.6,645.0 283.3,645.0 282.0,644.8 C280.7,644.6 279.2,644.1 278.1,643.5 C277.0,642.9 276.2,642.0 275.5,640.9 C274.8,639.8 274.1,638.4 273.9,637.0 C273.7,635.6 273.5,633.5 274.1,632.4Z" fill="#1a9a9e" filter="url(#blur1)"/><path d="M274.1,632.4 C274.7,631.3 276.1,630.9 277.4,630.5 C278.7,630.1 280.6,629.7 282.0,629.8 C283.4,629.9 284.6,630.7 285.9,631.1 C287.2,631.5 288.6,631.9 289.8,632.4 C291.0,632.9 292.3,633.5 293.1,634.4 C293.9,635.3 294.4,636.5 294.4,637.6 C294.4,638.7 293.9,639.9 293.1,640.9 C292.3,641.9 291.0,642.9 289.8,643.5 C288.6,644.1 287.2,644.6 285.9,644.8 C284.6,645.0 283.3,645.0 282.0,644.8 C280.7,644.6 279.2,644.1 278.1,643.5 C277.0,642.9 276.2,642.0 275.5,640.9 C274.8,639.8 274.1,638.4 273.9,637.0 C273.7,635.6 273.5,633.5 274.1,632.4Z" fill="#38d2d4" filter="url(#tex)"/></g>
<g clip-path="url(#clipN)"><path d="M270.2,663.8 C270.9,662.7 272.7,662.0 274.1,661.6 C275.5,661.2 277.3,661.0 278.7,661.2 C280.1,661.5 281.4,662.2 282.6,663.1 C283.8,664.0 285.0,665.2 285.9,666.4 C286.8,667.6 287.7,669.0 287.9,670.3 C288.1,671.6 287.9,673.2 287.2,674.2 C286.5,675.2 285.2,675.9 283.9,676.2 C282.6,676.5 280.9,676.4 279.4,676.2 C277.9,676.0 276.1,675.5 274.8,674.9 C273.5,674.2 272.4,673.4 271.5,672.3 C270.6,671.2 269.8,669.8 269.6,668.4 C269.4,667.0 269.4,664.9 270.2,663.8Z" fill="#1a9a9e" filter="url(#blur1)"/><path d="M270.2,663.8 C270.9,662.7 272.7,662.0 274.1,661.6 C275.5,661.2 277.3,661.0 278.7,661.2 C280.1,661.5 281.4,662.2 282.6,663.1 C283.8,664.0 285.0,665.2 285.9,666.4 C286.8,667.6 287.7,669.0 287.9,670.3 C288.1,671.6 287.9,673.2 287.2,674.2 C286.5,675.2 285.2,675.9 283.9,676.2 C282.6,676.5 280.9,676.4 279.4,676.2 C277.9,676.0 276.1,675.5 274.8,674.9 C273.5,674.2 272.4,673.4 271.5,672.3 C270.6,671.2 269.8,669.8 269.6,668.4 C269.4,667.0 269.4,664.9 270.2,663.8Z" fill="#38d2d4" filter="url(#tex)"/></g>
<g clip-path="url(#clipN)"><ellipse cx="251.0" cy="635" rx="2.5" ry="6" fill="#1a6e72" opacity="0.6" filter="url(#blur1)"/></g>
<path d="M272.4,646.6 L278.6,653.1 L270.4,650.5 Z" stroke="none" stroke-width="1" fill="#fff" stroke="#fff" stroke-width="0.4" stroke-linejoin="round"/>
<text x="253.2" y="619.4" font-size="6.4" fill="#fff" >Normal</text>
<text x="253.2" y="680.8" font-size="6.4" fill="#fff" >Aberrant</text>
<text x="327.4" y="555.2" font-size="10.6" font-weight="bold" fill="#000" >O</text>
<rect x="378.3" y="563.4" width="19.7" height="108.0" fill="#3daf3d" />
<rect x="378.3" y="641.1" width="19.7" height="30.299999999999955" fill="#8f86c8" />
<rect x="409.3" y="563.4" width="19.6" height="108.0" fill="#3daf3d" />
<rect x="409.3" y="607.9" width="19.6" height="63.5" fill="#8f86c8" />
<line x1="388.2" y1="628.8" x2="388.2" y2="653.9" stroke="#1a1a3a" stroke-width="1.0" />
<line x1="384.9" y1="628.8" x2="391.5" y2="628.8" stroke="#1a1a3a" stroke-width="1.0" />
<line x1="384.9" y1="653.9" x2="391.5" y2="653.9" stroke="#1a1a3a" stroke-width="1.0" />
<line x1="419.1" y1="596.1" x2="419.1" y2="618.5" stroke="#1a1a3a" stroke-width="1.0" />
<line x1="415.8" y1="596.1" x2="422.40000000000003" y2="596.1" stroke="#1a1a3a" stroke-width="1.0" />
<line x1="415.8" y1="618.5" x2="422.40000000000003" y2="618.5" stroke="#1a1a3a" stroke-width="1.0" />
<circle cx="419.1" cy="592.8" r="0.7" fill="#1a1a3a"/>
<rect x="372.8" y="563.4" width="61.80000000000001" height="108.0" fill="none" stroke="#111" stroke-width="1.3" />
<line x1="370.0" y1="671.4" x2="372.6" y2="671.4" stroke="#111" stroke-width="0.8" />
<text x="366.9" y="673.6" font-size="6.3" text-anchor="end" fill="#222" letter-spacing="0.12">0%</text>
<line x1="370.0" y1="660.6" x2="372.6" y2="660.6" stroke="#111" stroke-width="0.8" />
<text x="366.9" y="662.8000000000001" font-size="6.3" text-anchor="end" fill="#222" letter-spacing="0.12">10%</text>
<line x1="370.0" y1="649.8" x2="372.6" y2="649.8" stroke="#111" stroke-width="0.8" />
<text x="366.9" y="652.0" font-size="6.3" text-anchor="end" fill="#222" letter-spacing="0.12">20%</text>
<line x1="370.0" y1="639.0" x2="372.6" y2="639.0" stroke="#111" stroke-width="0.8" />
<text x="366.9" y="641.2" font-size="6.3" text-anchor="end" fill="#222" letter-spacing="0.12">30%</text>
<line x1="370.0" y1="628.1999999999999" x2="372.6" y2="628.1999999999999" stroke="#111" stroke-width="0.8" />
<text x="366.9" y="630.4" font-size="6.3" text-anchor="end" fill="#222" letter-spacing="0.12">40%</text>
<line x1="370.0" y1="617.4" x2="372.6" y2="617.4" stroke="#111" stroke-width="0.8" />
<text x="366.9" y="619.6" font-size="6.3" text-anchor="end" fill="#222" letter-spacing="0.12">50%</text>
<line x1="370.0" y1="606.5999999999999" x2="372.6" y2="606.5999999999999" stroke="#111" stroke-width="0.8" />
<text x="366.9" y="608.8" font-size="6.3" text-anchor="end" fill="#222" letter-spacing="0.12">60%</text>
<line x1="370.0" y1="595.8" x2="372.6" y2="595.8" stroke="#111" stroke-width="0.8" />
<text x="366.9" y="598.0" font-size="6.3" text-anchor="end" fill="#222" letter-spacing="0.12">70%</text>
<line x1="370.0" y1="585.0" x2="372.6" y2="585.0" stroke="#111" stroke-width="0.8" />
<text x="366.9" y="587.2" font-size="6.3" text-anchor="end" fill="#222" letter-spacing="0.12">80%</text>
<line x1="370.0" y1="574.1999999999999" x2="372.6" y2="574.1999999999999" stroke="#111" stroke-width="0.8" />
<text x="366.9" y="576.4" font-size="6.3" text-anchor="end" fill="#222" letter-spacing="0.12">90%</text>
<line x1="370.0" y1="563.4" x2="372.6" y2="563.4" stroke="#111" stroke-width="0.8" />
<text x="366.9" y="565.6" font-size="6.3" text-anchor="end" fill="#222" letter-spacing="0.12">100%</text>
<line x1="388.2" y1="671.4" x2="388.2" y2="674.0" stroke="#111" stroke-width="0.8" />
<line x1="419.1" y1="671.4" x2="419.1" y2="674.0" stroke="#111" stroke-width="0.8" />
<text x="388.2" y="683.4" font-size="6.6" text-anchor="middle" fill="#222" >WT</text>
<text x="419.4" y="683.5" font-size="6.6" text-anchor="middle" font-style="italic" fill="#222" >GATA2<tspan font-size="4.2" dy="-2.8">+/−</tspan></text>
<text x="343.8" y="617.6" font-size="8.0" text-anchor="middle" fill="#1a1a1a" textLength="26" lengthAdjust="spacingAndGlyphs" transform="rotate(-90 343.8 617.6)" >% of cells</text>
<rect x="437.6" y="609.7" width="6.2" height="5.8" fill="#3daf3d" />
<rect x="437.6" y="620.0" width="6.2" height="5.8" fill="#8f86c8" />
<text x="446.8" y="615.2" font-size="6.6" fill="#222" >Normal</text>
<text x="446.8" y="625.5" font-size="6.6" fill="#222" >Aberrant</text>
</svg>
</body></html>
